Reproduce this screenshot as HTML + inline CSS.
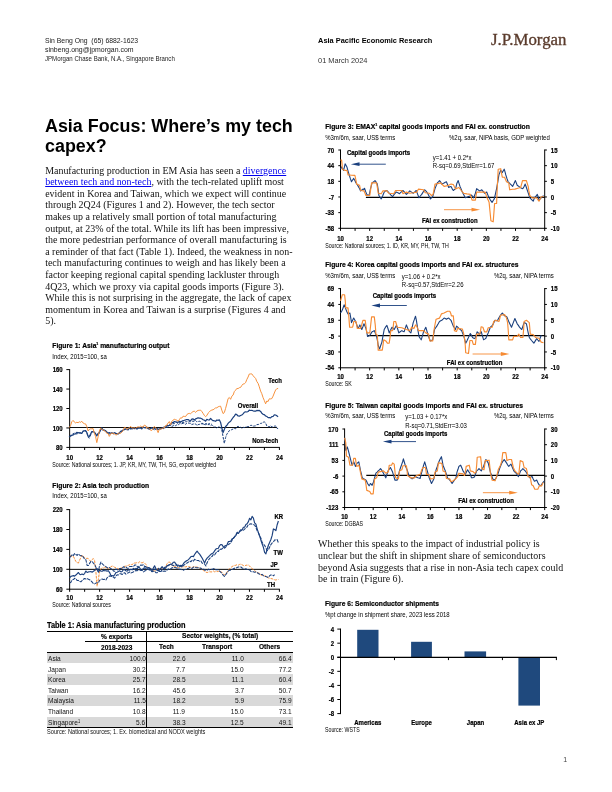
<!DOCTYPE html>
<html lang="en"><head><meta charset="utf-8"><title>Asia Focus: Where’s my tech capex?</title>
<style>
html,body{margin:0;padding:0;background:#fff}
#page{position:relative;width:612px;height:792px;overflow:hidden;background:#fff;font-family:'Liberation Sans',Arial,Helvetica,sans-serif}
.t{position:absolute;margin:0;padding:0;white-space:pre;line-height:1;font-weight:400}
.p{font-family:'Liberation Serif','Times New Roman',Times,serif}
.logo{font-family:'Liberation Serif','Times New Roman',Times,serif;-webkit-text-stroke:0.3px #5a3b2c}
.t a{color:#0000ee;text-decoration:underline;text-decoration-thickness:0.6px;text-underline-offset:1px}
.t sup{font-size:60%;line-height:0;vertical-align:0.5em}
h1,p,header,footer,section{margin:0;padding:0;font-size:inherit;font-weight:inherit}
.b{position:absolute}
.tb.bd{-webkit-text-stroke:0.2px #000}
svg{position:absolute;left:0;top:0}
svg text{font-family:'Liberation Sans',Arial,Helvetica,sans-serif}
</style></head>
<body><div id="page">
<header>
<span class="t" style="top:37.30px;font-size:7px;left:45.40px;transform:scaleX(0.9763);transform-origin:0 0;color:#1a1a1a;">Sin Beng Ong&nbsp; (65) 6882-1623</span>
<span class="t" style="top:46.30px;font-size:7px;left:45.40px;transform:scaleX(0.9876);transform-origin:0 0;color:#1a1a1a;">sinbeng.ong@jpmorgan.com</span>
<span class="t" style="top:55.10px;font-size:7.4px;left:45.40px;transform:scaleX(0.8227);transform-origin:0 0;color:#1a1a1a;">JPMorgan Chase Bank, N.A., Singapore Branch</span>
<span class="t" style="top:37.10px;font-size:7.4px;left:318.10px;font-weight:700;">Asia Pacific Economic Research</span>
<span class="t" style="top:57.10px;font-size:7.4px;left:318.10px;transform:scaleX(1.0038);transform-origin:0 0;color:#333;">01 March 2024</span>
<span class="t logo" style="top:31.95px;font-size:15.7px;left:490.60px;transform:scaleX(1.0735);transform-origin:0 0;color:#5a3b2c;">J.P.Morgan</span>
</header>
<h1>
<span class="t" style="top:117.30px;font-size:18px;left:45.30px;transform:scaleX(0.9935);transform-origin:0 0;font-weight:700;">Asia Focus: Where’s my tech</span>
<span class="t" style="top:137.30px;font-size:18px;left:45.30px;transform:scaleX(0.9936);transform-origin:0 0;font-weight:700;">capex?</span>
</h1>
<p>
<span class="t p" style="top:165.83px;font-size:9.95px;left:45.20px;color:#111;">Manufacturing production in EM Asia has seen a <a href="#">divergence</a></span>
<span class="t p" style="top:176.83px;font-size:9.95px;left:45.20px;color:#111;"><a href="#">between tech and non-tech</a>, with the tech-related uplift most</span>
<span class="t p" style="top:188.83px;font-size:9.95px;left:45.20px;color:#111;">evident in Korea and Taiwan, which we expect will continue</span>
<span class="t p" style="top:199.83px;font-size:9.95px;left:45.20px;color:#111;">through 2Q24 (Figures 1 and 2). However, the tech sector</span>
<span class="t p" style="top:211.83px;font-size:9.95px;left:45.20px;color:#111;">makes up a relatively small portion of total manufacturing</span>
<span class="t p" style="top:223.83px;font-size:9.95px;left:45.20px;color:#111;">output, at 23% of the total. While its lift has been impressive,</span>
<span class="t p" style="top:234.83px;font-size:9.95px;left:45.20px;color:#111;">the more pedestrian performance of overall manufacturing is</span>
<span class="t p" style="top:246.83px;font-size:9.95px;left:45.20px;color:#111;">a reminder of that fact (Table 1). Indeed, the weakness in non-</span>
<span class="t p" style="top:257.82px;font-size:9.95px;left:45.20px;color:#111;">tech manufacturing continues to weigh and has likely been a</span>
<span class="t p" style="top:269.82px;font-size:9.95px;left:45.20px;color:#111;">factor keeping regional capital spending lackluster through</span>
<span class="t p" style="top:281.82px;font-size:9.95px;left:45.20px;color:#111;">4Q23, which we proxy via capital goods imports (Figure 3).</span>
<span class="t p" style="top:292.82px;font-size:9.95px;left:45.20px;color:#111;">While this is not surprising in the aggregate, the lack of capex</span>
<span class="t p" style="top:304.82px;font-size:9.95px;left:45.20px;color:#111;">momentum in Korea and Taiwan is a surprise (Figures 4 and</span>
<span class="t p" style="top:315.82px;font-size:9.95px;left:45.20px;color:#111;">5).</span>
</p>
<section id="table">
<div class="b" style="left:47.20px;top:652.90px;width:245.50px;height:10.60px;background:#d9d9d9"></div>
<div class="b" style="left:47.20px;top:674.10px;width:245.50px;height:10.60px;background:#d9d9d9"></div>
<div class="b" style="left:47.20px;top:695.30px;width:245.50px;height:10.60px;background:#d9d9d9"></div>
<div class="b" style="left:47.20px;top:716.50px;width:245.50px;height:10.60px;background:#d9d9d9"></div>
<div class="b" style="left:47.20px;top:630.70px;width:245.50px;height:1.30px;background:#000"></div>
<div class="b" style="left:85.20px;top:641.00px;width:207.50px;height:0.90px;background:#000"></div>
<div class="b" style="left:47.20px;top:652.00px;width:245.50px;height:1.10px;background:#000"></div>
<div class="b" style="left:47.20px;top:726.50px;width:245.50px;height:1.30px;background:#000"></div>
<div class="b" style="left:146.10px;top:631.00px;width:1.10px;height:96.50px;background:#000"></div>
<span class="t tb bd" style="top:620.80px;font-size:9px;left:47.40px;transform:scaleX(0.8200);transform-origin:0 0;font-weight:700;">Table 1: Asia manufacturing production</span>
<span class="t tb bd" style="top:632.80px;font-size:8px;left:101.30px;transform:scaleX(0.8200);transform-origin:0 0;font-weight:700;">% exports</span>
<span class="t tb bd" style="top:631.80px;font-size:8px;left:182.20px;transform:scaleX(0.8200);transform-origin:0 0;font-weight:700;">Sector weights, (% total)</span>
<span class="t tb bd" style="top:643.80px;font-size:8px;left:101.00px;transform:scaleX(0.8200);transform-origin:0 0;font-weight:700;">2018-2023</span>
<span class="t tb bd" style="top:642.80px;font-size:8px;left:159.00px;transform:scaleX(0.8200);transform-origin:0 0;font-weight:700;">Tech</span>
<span class="t tb bd" style="top:642.80px;font-size:8px;left:201.60px;transform:scaleX(0.8200);transform-origin:0 0;font-weight:700;">Transport</span>
<span class="t tb bd" style="top:642.80px;font-size:8px;left:258.80px;transform:scaleX(0.8200);transform-origin:0 0;font-weight:700;">Others</span>
<span class="t tb" style="top:654.80px;font-size:8px;left:47.80px;transform:scaleX(0.8200);transform-origin:0 0;color:#111;">Asia</span>
<span class="t tb" style="top:654.80px;font-size:8px;right:466.40px;transform:scaleX(0.8200);transform-origin:100% 0;color:#111;">100.0</span>
<span class="t tb" style="top:654.80px;font-size:8px;right:426.80px;transform:scaleX(0.8200);transform-origin:100% 0;color:#111;">22.6</span>
<span class="t tb" style="top:654.80px;font-size:8px;right:368.00px;transform:scaleX(0.8200);transform-origin:100% 0;color:#111;">11.0</span>
<span class="t tb" style="top:654.80px;font-size:8px;right:320.90px;transform:scaleX(0.8200);transform-origin:100% 0;color:#111;">66.4</span>
<span class="t tb" style="top:665.80px;font-size:8px;left:47.80px;transform:scaleX(0.8200);transform-origin:0 0;color:#111;">Japan</span>
<span class="t tb" style="top:665.80px;font-size:8px;right:466.40px;transform:scaleX(0.8200);transform-origin:100% 0;color:#111;">30.2</span>
<span class="t tb" style="top:665.80px;font-size:8px;right:426.80px;transform:scaleX(0.8200);transform-origin:100% 0;color:#111;">7.7</span>
<span class="t tb" style="top:665.80px;font-size:8px;right:368.00px;transform:scaleX(0.8200);transform-origin:100% 0;color:#111;">15.0</span>
<span class="t tb" style="top:665.80px;font-size:8px;right:320.90px;transform:scaleX(0.8200);transform-origin:100% 0;color:#111;">77.2</span>
<span class="t tb" style="top:675.80px;font-size:8px;left:47.80px;transform:scaleX(0.8200);transform-origin:0 0;color:#111;">Korea</span>
<span class="t tb" style="top:675.80px;font-size:8px;right:466.40px;transform:scaleX(0.8200);transform-origin:100% 0;color:#111;">25.7</span>
<span class="t tb" style="top:675.80px;font-size:8px;right:426.80px;transform:scaleX(0.8200);transform-origin:100% 0;color:#111;">28.5</span>
<span class="t tb" style="top:675.80px;font-size:8px;right:368.00px;transform:scaleX(0.8200);transform-origin:100% 0;color:#111;">11.1</span>
<span class="t tb" style="top:675.80px;font-size:8px;right:320.90px;transform:scaleX(0.8200);transform-origin:100% 0;color:#111;">60.4</span>
<span class="t tb" style="top:686.80px;font-size:8px;left:47.80px;transform:scaleX(0.8200);transform-origin:0 0;color:#111;">Taiwan</span>
<span class="t tb" style="top:686.80px;font-size:8px;right:466.40px;transform:scaleX(0.8200);transform-origin:100% 0;color:#111;">16.2</span>
<span class="t tb" style="top:686.80px;font-size:8px;right:426.80px;transform:scaleX(0.8200);transform-origin:100% 0;color:#111;">45.6</span>
<span class="t tb" style="top:686.80px;font-size:8px;right:368.00px;transform:scaleX(0.8200);transform-origin:100% 0;color:#111;">3.7</span>
<span class="t tb" style="top:686.80px;font-size:8px;right:320.90px;transform:scaleX(0.8200);transform-origin:100% 0;color:#111;">50.7</span>
<span class="t tb" style="top:696.80px;font-size:8px;left:47.80px;transform:scaleX(0.8200);transform-origin:0 0;color:#111;">Malaysia</span>
<span class="t tb" style="top:696.80px;font-size:8px;right:466.40px;transform:scaleX(0.8200);transform-origin:100% 0;color:#111;">11.5</span>
<span class="t tb" style="top:696.80px;font-size:8px;right:426.80px;transform:scaleX(0.8200);transform-origin:100% 0;color:#111;">18.2</span>
<span class="t tb" style="top:696.80px;font-size:8px;right:368.00px;transform:scaleX(0.8200);transform-origin:100% 0;color:#111;">5.9</span>
<span class="t tb" style="top:696.80px;font-size:8px;right:320.90px;transform:scaleX(0.8200);transform-origin:100% 0;color:#111;">75.9</span>
<span class="t tb" style="top:707.80px;font-size:8px;left:47.80px;transform:scaleX(0.8200);transform-origin:0 0;color:#111;">Thailand</span>
<span class="t tb" style="top:707.80px;font-size:8px;right:466.40px;transform:scaleX(0.8200);transform-origin:100% 0;color:#111;">10.8</span>
<span class="t tb" style="top:707.80px;font-size:8px;right:426.80px;transform:scaleX(0.8200);transform-origin:100% 0;color:#111;">11.9</span>
<span class="t tb" style="top:707.80px;font-size:8px;right:368.00px;transform:scaleX(0.8200);transform-origin:100% 0;color:#111;">15.0</span>
<span class="t tb" style="top:707.80px;font-size:8px;right:320.90px;transform:scaleX(0.8200);transform-origin:100% 0;color:#111;">73.1</span>
<span class="t tb" style="top:718.80px;font-size:8px;left:47.80px;transform:scaleX(0.8200);transform-origin:0 0;color:#111;">Singapore<sup>1</sup></span>
<span class="t tb" style="top:718.80px;font-size:8px;right:466.40px;transform:scaleX(0.8200);transform-origin:100% 0;color:#111;">5.6</span>
<span class="t tb" style="top:718.80px;font-size:8px;right:426.80px;transform:scaleX(0.8200);transform-origin:100% 0;color:#111;">38.3</span>
<span class="t tb" style="top:718.80px;font-size:8px;right:368.00px;transform:scaleX(0.8200);transform-origin:100% 0;color:#111;">12.5</span>
<span class="t tb" style="top:718.80px;font-size:8px;right:320.90px;transform:scaleX(0.8200);transform-origin:100% 0;color:#111;">49.1</span>
<span class="t tb" style="top:728.30px;font-size:7px;left:47.40px;transform:scaleX(0.8046);transform-origin:0 0;color:#111;">Source: National sources; 1. Ex. biomedical and NODX weights</span>
</section>
<svg width="612" height="792" viewBox="0 0 612 792">
<text x="52.30" y="347.80" font-size="8" text-anchor="start" textLength="117.10" lengthAdjust="spacingAndGlyphs" font-weight="700" stroke="#000" stroke-width="0.22">Figure 1: Asia<tspan font-size="4.16" dy="-3.20">1</tspan><tspan dy="3.20"> manufacturing output</tspan></text>
<text transform="translate(52.30,358.50) scale(0.82,1)" font-size="7.33" text-anchor="start">Index, 2015=100, sa</text>
<line x1="69.65" y1="369.10" x2="69.65" y2="447.90" stroke="#000" stroke-width="1"/>
<line x1="66.35" y1="369.60" x2="69.65" y2="369.60" stroke="#000" stroke-width="1"/>
<text transform="translate(62.70,372.22) scale(0.82,1)" font-size="7.33" text-anchor="end" font-weight="700" stroke="#000" stroke-width="0.22">160</text>
<line x1="66.35" y1="389.05" x2="69.65" y2="389.05" stroke="#000" stroke-width="1"/>
<text transform="translate(62.70,391.67) scale(0.82,1)" font-size="7.33" text-anchor="end" font-weight="700" stroke="#000" stroke-width="0.22">140</text>
<line x1="66.35" y1="408.50" x2="69.65" y2="408.50" stroke="#000" stroke-width="1"/>
<text transform="translate(62.70,411.12) scale(0.82,1)" font-size="7.33" text-anchor="end" font-weight="700" stroke="#000" stroke-width="0.22">120</text>
<line x1="66.35" y1="427.95" x2="69.65" y2="427.95" stroke="#000" stroke-width="1"/>
<text transform="translate(62.70,430.57) scale(0.82,1)" font-size="7.33" text-anchor="end" font-weight="700" stroke="#000" stroke-width="0.22">100</text>
<line x1="66.35" y1="447.40" x2="69.65" y2="447.40" stroke="#000" stroke-width="1"/>
<text transform="translate(62.70,450.02) scale(0.82,1)" font-size="7.33" text-anchor="end" font-weight="700" stroke="#000" stroke-width="0.22">80</text>
<line x1="69.15" y1="447.40" x2="279.90" y2="447.40" stroke="#000" stroke-width="1"/>
<line x1="69.65" y1="447.40" x2="69.65" y2="450.00" stroke="#000" stroke-width="1"/>
<line x1="84.63" y1="447.40" x2="84.63" y2="450.00" stroke="#000" stroke-width="1"/>
<line x1="99.61" y1="447.40" x2="99.61" y2="450.00" stroke="#000" stroke-width="1"/>
<line x1="114.60" y1="447.40" x2="114.60" y2="450.00" stroke="#000" stroke-width="1"/>
<line x1="129.58" y1="447.40" x2="129.58" y2="450.00" stroke="#000" stroke-width="1"/>
<line x1="144.56" y1="447.40" x2="144.56" y2="450.00" stroke="#000" stroke-width="1"/>
<line x1="159.54" y1="447.40" x2="159.54" y2="450.00" stroke="#000" stroke-width="1"/>
<line x1="174.52" y1="447.40" x2="174.52" y2="450.00" stroke="#000" stroke-width="1"/>
<line x1="189.51" y1="447.40" x2="189.51" y2="450.00" stroke="#000" stroke-width="1"/>
<line x1="204.49" y1="447.40" x2="204.49" y2="450.00" stroke="#000" stroke-width="1"/>
<line x1="219.47" y1="447.40" x2="219.47" y2="450.00" stroke="#000" stroke-width="1"/>
<line x1="234.45" y1="447.40" x2="234.45" y2="450.00" stroke="#000" stroke-width="1"/>
<line x1="249.44" y1="447.40" x2="249.44" y2="450.00" stroke="#000" stroke-width="1"/>
<line x1="264.42" y1="447.40" x2="264.42" y2="450.00" stroke="#000" stroke-width="1"/>
<line x1="279.40" y1="447.40" x2="279.40" y2="450.00" stroke="#000" stroke-width="1"/>
<text transform="translate(69.65,460.22) scale(0.82,1)" font-size="7.33" text-anchor="middle" font-weight="700" stroke="#000" stroke-width="0.22">10</text>
<text transform="translate(99.61,460.22) scale(0.82,1)" font-size="7.33" text-anchor="middle" font-weight="700" stroke="#000" stroke-width="0.22">12</text>
<text transform="translate(129.58,460.22) scale(0.82,1)" font-size="7.33" text-anchor="middle" font-weight="700" stroke="#000" stroke-width="0.22">14</text>
<text transform="translate(159.54,460.22) scale(0.82,1)" font-size="7.33" text-anchor="middle" font-weight="700" stroke="#000" stroke-width="0.22">16</text>
<text transform="translate(189.51,460.22) scale(0.82,1)" font-size="7.33" text-anchor="middle" font-weight="700" stroke="#000" stroke-width="0.22">18</text>
<text transform="translate(219.47,460.22) scale(0.82,1)" font-size="7.33" text-anchor="middle" font-weight="700" stroke="#000" stroke-width="0.22">20</text>
<text transform="translate(249.44,460.22) scale(0.82,1)" font-size="7.33" text-anchor="middle" font-weight="700" stroke="#000" stroke-width="0.22">22</text>
<text transform="translate(279.40,460.22) scale(0.82,1)" font-size="7.33" text-anchor="middle" font-weight="700" stroke="#000" stroke-width="0.22">24</text>
<line x1="69.30" y1="427.50" x2="277.00" y2="427.50" stroke="#000" stroke-width="0.95"/>
<path d="M169.2,425.1 L170.4,424.9 L171.7,424.0 L172.9,423.8 L174.2,423.6 L175.4,422.6 L176.7,422.5 L177.9,423.6 L179.2,422.5 L180.4,422.3 L181.7,423.3 L182.9,422.2 L184.2,422.5 L185.4,421.7 L186.7,421.7 L187.9,420.8 L189.2,421.4 L190.4,421.7 L191.7,421.0 L192.9,421.3 L194.2,421.3 L195.4,420.4 L196.7,421.7 L197.9,421.6 L199.2,421.2 L200.4,421.5 L201.7,423.5 L202.9,423.4 L204.2,424.4 L205.4,424.7 L206.7,424.3 L207.9,424.4 L209.2,423.5 L210.4,424.1 L211.7,424.1" fill="none" stroke="#1b407e" stroke-width="1.0" stroke-linejoin="round" stroke-dasharray="2.6,1.1"/>
<path d="M69.3,436.5 L70.6,435.2 L71.8,434.8 L73.1,433.7 L74.3,433.1 L75.6,433.3 L76.8,434.0 L78.1,433.4 L79.3,432.9 L80.6,432.6 L81.8,433.2 L83.1,431.5 L84.3,430.5 L85.6,430.7 L86.8,432.4 L88.1,437.2 L89.3,438.2 L90.6,435.0 L91.8,432.7 L93.1,430.9 L94.3,431.9 L95.6,434.8 L96.8,435.9 L98.1,434.8 L99.3,433.2 L100.6,430.2 L101.8,429.1 L103.1,430.2 L104.3,430.9 L105.6,431.1 L106.8,432.1 L108.1,432.3 L109.3,434.1 L110.6,433.5 L111.8,433.1 L113.1,433.5 L114.3,434.2 L115.6,433.2 L116.8,434.2 L118.1,434.2 L119.3,432.9 L120.6,432.0 L121.8,431.7 L123.1,430.8 L124.3,429.8 L125.6,429.5 L126.8,430.3 L128.1,429.3 L129.3,428.7 L130.6,429.1 L131.8,428.8 L133.1,429.0 L134.3,428.4 L135.6,428.6 L136.8,429.9 L138.1,427.9 L139.3,428.0 L140.6,428.2 L141.8,428.7 L143.1,427.6 L144.3,427.5 L145.6,428.1 L146.8,427.9 L148.1,428.8 L149.3,429.9 L150.6,428.4 L151.8,428.2 L153.1,429.0 L154.3,429.8 L155.6,429.1 L156.8,428.8 L158.1,429.3 L159.3,428.3 L160.6,428.4 L161.8,428.0 L163.1,428.7 L164.3,428.3 L165.6,427.7 L166.8,427.1 L168.1,427.1 L169.3,425.3 L170.6,425.6 L171.8,426.4 L173.1,425.9 L174.3,425.1 L175.6,425.7 L176.8,424.9 L178.1,425.0 L179.3,423.9 L180.6,423.6 L181.8,423.8 L183.1,423.2 L184.3,423.5 L185.6,424.3 L186.8,423.3 L188.1,423.0 L189.3,423.2 L190.6,423.5 L191.8,424.6 L193.1,424.0 L194.3,424.0 L195.6,423.9 L196.8,425.4 L198.1,424.6 L199.3,424.4 L200.6,424.0 L201.8,423.8 L203.1,423.9 L204.3,424.6 L205.6,423.6 L206.8,423.7 L208.1,424.6 L209.3,424.5 L210.6,425.9 L211.8,424.8 L213.1,425.9 L214.3,427.0 L215.6,427.0 L216.8,428.1 L218.1,427.0 L219.3,426.5 L220.6,427.5 L221.8,429.8 L223.1,437.0 L224.3,443.4 L225.6,437.5 L226.8,434.2 L228.1,432.4 L229.3,430.6 L230.6,430.3 L231.8,429.6 L233.1,429.0 L234.3,428.4 L235.6,428.8 L236.8,427.0 L238.1,426.3 L239.3,427.3 L240.6,427.1 L241.8,428.3 L243.1,427.3 L244.3,427.6 L245.6,426.9 L246.8,426.8 L248.1,426.7 L249.3,426.3 L250.6,425.4 L251.8,425.4 L253.1,426.2 L254.3,426.0 L255.6,425.9 L256.8,424.6 L258.1,424.5 L259.3,424.2 L260.6,423.4 L261.8,423.2 L263.1,422.2 L264.3,421.9 L265.6,422.9 L266.8,425.9 L268.1,426.7 L269.3,426.7 L270.6,425.5 L271.8,427.1 L273.1,426.9 L274.3,426.2 L275.6,425.9 L276.8,428.1 L278.1,428.6" fill="none" stroke="#1b407e" stroke-width="1.0" stroke-linejoin="round" stroke-dasharray="2.6,1.1"/>
<path d="M69.3,437.1 L70.6,436.0 L71.8,435.4 L73.1,435.0 L74.3,434.0 L75.6,433.9 L76.8,432.3 L78.1,432.7 L79.3,432.9 L80.6,433.1 L81.8,433.5 L83.1,431.0 L84.3,430.8 L85.6,430.6 L86.8,432.5 L88.1,436.2 L89.3,436.5 L90.6,433.9 L91.8,431.6 L93.1,431.7 L94.3,432.2 L95.6,433.7 L96.8,435.8 L98.1,433.4 L99.3,432.6 L100.6,430.0 L101.8,427.8 L103.1,430.1 L104.3,430.0 L105.6,430.7 L106.8,432.5 L108.1,433.1 L109.3,432.6 L110.6,433.2 L111.8,432.7 L113.1,433.6 L114.3,432.6 L115.6,433.4 L116.8,433.5 L118.1,433.9 L119.3,433.1 L120.6,431.4 L121.8,430.9 L123.1,430.0 L124.3,429.4 L125.6,428.7 L126.8,429.1 L128.1,429.8 L129.3,428.2 L130.6,428.7 L131.8,428.4 L133.1,428.2 L134.3,428.6 L135.6,428.4 L136.8,428.4 L138.1,427.9 L139.3,428.1 L140.6,427.6 L141.8,428.8 L143.1,426.8 L144.3,427.7 L145.6,427.8 L146.8,427.0 L148.1,428.7 L149.3,428.6 L150.6,428.7 L151.8,427.7 L153.1,428.3 L154.3,428.5 L155.6,429.2 L156.8,428.3 L158.1,429.5 L159.3,429.1 L160.6,428.8 L161.8,428.1 L163.1,427.6 L164.3,427.1 L165.6,427.1 L166.8,425.4 L168.1,425.8 L169.3,425.2 L170.6,424.5 L171.8,422.3 L173.1,422.9 L174.3,421.5 L175.6,421.8 L176.8,422.1 L178.1,422.4 L179.3,421.3 L180.6,422.1 L181.8,421.2 L183.1,420.6 L184.3,420.3 L185.6,419.9 L186.8,419.5 L188.1,419.5 L189.3,420.2 L190.6,420.6 L191.8,419.1 L193.1,418.8 L194.3,420.0 L195.6,418.9 L196.8,418.4 L198.1,417.8 L199.3,418.1 L200.6,418.2 L201.8,418.7 L203.1,419.7 L204.3,420.1 L205.6,421.2 L206.8,419.4 L208.1,419.8 L209.3,420.0 L210.6,418.5 L211.8,419.7 L213.1,420.7 L214.3,420.8 L215.6,421.3 L216.8,420.0 L218.1,420.4 L219.3,419.8 L220.6,422.5 L221.8,427.7 L223.1,432.6 L224.3,429.5 L225.6,426.5 L226.8,425.5 L228.1,423.4 L229.3,422.2 L230.6,421.3 L231.8,419.4 L233.1,417.5 L234.3,416.1 L235.6,414.1 L236.8,414.6 L238.1,416.0 L239.3,416.2 L240.6,415.5 L241.8,415.0 L243.1,413.9 L244.3,412.3 L245.6,411.8 L246.8,412.0 L248.1,411.5 L249.3,410.1 L250.6,410.5 L251.8,410.4 L253.1,410.8 L254.3,411.1 L255.6,411.2 L256.8,410.4 L258.1,410.7 L259.3,410.4 L260.6,411.4 L261.8,413.2 L263.1,414.3 L264.3,414.6 L265.6,416.0 L266.8,416.4 L268.1,417.6 L269.3,417.7 L270.6,417.9 L271.8,416.7 L273.1,416.5 L274.3,414.9 L275.6,415.0 L276.8,415.8 L278.1,416.8" fill="none" stroke="#1b407e" stroke-width="1.2" stroke-linejoin="round"/>
<path d="M69.3,427.5 L70.6,425.5 L71.8,421.7 L73.1,420.4 L74.3,422.0 L75.6,422.9 L76.8,422.3 L78.1,422.7 L79.3,421.8 L80.6,422.3 L81.8,421.3 L83.1,423.0 L84.3,423.7 L85.6,423.9 L86.8,426.6 L88.1,431.0 L89.3,429.4 L90.6,428.8 L91.8,428.8 L93.1,428.6 L94.3,433.2 L95.6,436.6 L96.8,442.6 L98.1,436.8 L99.3,431.0 L100.6,428.2 L101.8,428.9 L103.1,430.2 L104.3,430.6 L105.6,431.5 L106.8,433.3 L108.1,433.6 L109.3,436.4 L110.6,434.2 L111.8,432.8 L113.1,433.8 L114.3,433.4 L115.6,434.9 L116.8,434.9 L118.1,433.1 L119.3,433.1 L120.6,433.4 L121.8,432.0 L123.1,430.8 L124.3,427.3 L125.6,427.6 L126.8,429.4 L128.1,428.2 L129.3,428.1 L130.6,426.3 L131.8,427.8 L133.1,428.1 L134.3,427.5 L135.6,428.3 L136.8,427.3 L138.1,426.8 L139.3,427.1 L140.6,426.1 L141.8,426.9 L143.1,427.2 L144.3,425.1 L145.6,425.6 L146.8,428.3 L148.1,427.3 L149.3,428.5 L150.6,430.3 L151.8,430.4 L153.1,429.0 L154.3,426.4 L155.6,427.6 L156.8,429.5 L158.1,432.6 L159.3,429.2 L160.6,428.9 L161.8,429.0 L163.1,427.8 L164.3,428.0 L165.6,425.5 L166.8,425.4 L168.1,422.9 L169.3,421.6 L170.6,424.8 L171.8,421.4 L173.1,420.1 L174.3,419.3 L175.6,419.7 L176.8,420.2 L178.1,421.2 L179.3,419.7 L180.6,417.8 L181.8,418.1 L183.1,416.2 L184.3,416.4 L185.6,416.6 L186.8,414.6 L188.1,413.7 L189.3,413.4 L190.6,413.7 L191.8,412.5 L193.1,411.5 L194.3,411.2 L195.6,412.4 L196.8,411.1 L198.1,410.4 L199.3,410.3 L200.6,410.1 L201.8,411.5 L203.1,413.4 L204.3,415.4 L205.6,416.6 L206.8,415.6 L208.1,413.2 L209.3,412.0 L210.6,410.5 L211.8,410.1 L213.1,409.7 L214.3,409.1 L215.6,407.7 L216.8,407.9 L218.1,406.8 L219.3,406.4 L220.6,406.2 L221.8,410.2 L223.1,413.6 L224.3,412.6 L225.6,408.4 L226.8,403.9 L228.1,398.6 L229.3,397.5 L230.6,399.3 L231.8,396.2 L233.1,395.1 L234.3,391.6 L235.6,390.2 L236.8,388.5 L238.1,388.6 L239.3,387.7 L240.6,387.4 L241.8,385.5 L243.1,384.0 L244.3,383.8 L245.6,382.6 L246.8,379.5 L248.1,377.0 L249.3,374.0 L250.6,373.9 L251.8,373.9 L253.1,375.7 L254.3,377.1 L255.6,378.4 L256.8,381.5 L258.1,383.4 L259.3,386.8 L260.6,391.1 L261.8,393.7 L263.1,397.7 L264.3,400.5 L265.6,403.8 L266.8,401.0 L268.1,401.5 L269.3,398.8 L270.6,398.9 L271.8,398.6 L273.1,396.1 L274.3,393.0 L275.6,390.0 L276.8,388.7 L278.1,388.5" fill="none" stroke="#f68b33" stroke-width="0.95" stroke-linejoin="round"/>
<text transform="translate(268.30,382.90) scale(0.82,1)" font-size="7.33" text-anchor="start" font-weight="700" stroke="#000" stroke-width="0.22">Tech</text>
<text transform="translate(237.80,407.92) scale(0.82,1)" font-size="7.33" text-anchor="start" font-weight="700" stroke="#000" stroke-width="0.22">Overall</text>
<text transform="translate(252.20,442.62) scale(0.82,1)" font-size="7.33" text-anchor="start" font-weight="700" stroke="#000" stroke-width="0.22">Non-tech</text>
<text transform="translate(52.30,467.00) scale(0.82,1)" font-size="6.4" text-anchor="start">Source: National sources; 1. JP, KR, MY, TW, TH, SG, export weighted</text>
<text x="52.30" y="487.70" font-size="8" text-anchor="start" textLength="96.90" lengthAdjust="spacingAndGlyphs" font-weight="700" stroke="#000" stroke-width="0.22">Figure 2: Asia tech production</text>
<text transform="translate(52.30,498.30) scale(0.82,1)" font-size="7.33" text-anchor="start">Index, 2015=100, sa</text>
<line x1="69.65" y1="509.10" x2="69.65" y2="589.70" stroke="#000" stroke-width="1"/>
<line x1="66.35" y1="509.60" x2="69.65" y2="509.60" stroke="#000" stroke-width="1"/>
<text transform="translate(62.70,512.22) scale(0.82,1)" font-size="7.33" text-anchor="end" font-weight="700" stroke="#000" stroke-width="0.22">220</text>
<line x1="66.35" y1="529.50" x2="69.65" y2="529.50" stroke="#000" stroke-width="1"/>
<text transform="translate(62.70,532.12) scale(0.82,1)" font-size="7.33" text-anchor="end" font-weight="700" stroke="#000" stroke-width="0.22">180</text>
<line x1="66.35" y1="549.40" x2="69.65" y2="549.40" stroke="#000" stroke-width="1"/>
<text transform="translate(62.70,552.02) scale(0.82,1)" font-size="7.33" text-anchor="end" font-weight="700" stroke="#000" stroke-width="0.22">140</text>
<line x1="66.35" y1="569.30" x2="69.65" y2="569.30" stroke="#000" stroke-width="1"/>
<text transform="translate(62.70,571.92) scale(0.82,1)" font-size="7.33" text-anchor="end" font-weight="700" stroke="#000" stroke-width="0.22">100</text>
<line x1="66.35" y1="589.20" x2="69.65" y2="589.20" stroke="#000" stroke-width="1"/>
<text transform="translate(62.70,591.82) scale(0.82,1)" font-size="7.33" text-anchor="end" font-weight="700" stroke="#000" stroke-width="0.22">60</text>
<line x1="69.15" y1="589.20" x2="279.90" y2="589.20" stroke="#000" stroke-width="1"/>
<line x1="69.65" y1="589.20" x2="69.65" y2="591.80" stroke="#000" stroke-width="1"/>
<line x1="84.63" y1="589.20" x2="84.63" y2="591.80" stroke="#000" stroke-width="1"/>
<line x1="99.61" y1="589.20" x2="99.61" y2="591.80" stroke="#000" stroke-width="1"/>
<line x1="114.60" y1="589.20" x2="114.60" y2="591.80" stroke="#000" stroke-width="1"/>
<line x1="129.58" y1="589.20" x2="129.58" y2="591.80" stroke="#000" stroke-width="1"/>
<line x1="144.56" y1="589.20" x2="144.56" y2="591.80" stroke="#000" stroke-width="1"/>
<line x1="159.54" y1="589.20" x2="159.54" y2="591.80" stroke="#000" stroke-width="1"/>
<line x1="174.52" y1="589.20" x2="174.52" y2="591.80" stroke="#000" stroke-width="1"/>
<line x1="189.51" y1="589.20" x2="189.51" y2="591.80" stroke="#000" stroke-width="1"/>
<line x1="204.49" y1="589.20" x2="204.49" y2="591.80" stroke="#000" stroke-width="1"/>
<line x1="219.47" y1="589.20" x2="219.47" y2="591.80" stroke="#000" stroke-width="1"/>
<line x1="234.45" y1="589.20" x2="234.45" y2="591.80" stroke="#000" stroke-width="1"/>
<line x1="249.44" y1="589.20" x2="249.44" y2="591.80" stroke="#000" stroke-width="1"/>
<line x1="264.42" y1="589.20" x2="264.42" y2="591.80" stroke="#000" stroke-width="1"/>
<line x1="279.40" y1="589.20" x2="279.40" y2="591.80" stroke="#000" stroke-width="1"/>
<text transform="translate(69.65,600.12) scale(0.82,1)" font-size="7.33" text-anchor="middle" font-weight="700" stroke="#000" stroke-width="0.22">10</text>
<text transform="translate(99.61,600.12) scale(0.82,1)" font-size="7.33" text-anchor="middle" font-weight="700" stroke="#000" stroke-width="0.22">12</text>
<text transform="translate(129.58,600.12) scale(0.82,1)" font-size="7.33" text-anchor="middle" font-weight="700" stroke="#000" stroke-width="0.22">14</text>
<text transform="translate(159.54,600.12) scale(0.82,1)" font-size="7.33" text-anchor="middle" font-weight="700" stroke="#000" stroke-width="0.22">16</text>
<text transform="translate(189.51,600.12) scale(0.82,1)" font-size="7.33" text-anchor="middle" font-weight="700" stroke="#000" stroke-width="0.22">18</text>
<text transform="translate(219.47,600.12) scale(0.82,1)" font-size="7.33" text-anchor="middle" font-weight="700" stroke="#000" stroke-width="0.22">20</text>
<text transform="translate(249.44,600.12) scale(0.82,1)" font-size="7.33" text-anchor="middle" font-weight="700" stroke="#000" stroke-width="0.22">22</text>
<text transform="translate(279.40,600.12) scale(0.82,1)" font-size="7.33" text-anchor="middle" font-weight="700" stroke="#000" stroke-width="0.22">24</text>
<line x1="69.30" y1="569.35" x2="279.40" y2="569.35" stroke="#000" stroke-width="1.0"/>
<path d="M69.6,556.0 L70.9,555.9 L72.1,556.7 L73.4,556.3 L74.6,558.9 L75.9,561.6 L77.1,562.5 L78.4,563.1 L79.6,560.1 L80.9,557.5 L82.1,555.0 L83.4,556.3 L84.6,557.7 L85.9,558.6 L87.1,558.2 L88.4,558.7 L89.6,560.4 L90.9,561.2 L92.1,559.5 L93.4,558.6 L94.6,560.6 L95.9,571.7 L97.1,586.2 L98.4,578.9 L99.6,571.5 L100.9,568.9 L102.1,567.7 L103.4,568.1 L104.6,567.2 L105.9,567.5 L107.1,568.3 L108.4,568.3 L109.6,568.0 L110.9,566.8 L112.1,566.0 L113.4,566.4 L114.6,567.3 L115.9,567.7 L117.1,568.2 L118.4,569.0 L119.6,568.6 L120.9,567.9 L122.1,568.0 L123.4,567.4 L124.6,566.3 L125.9,566.2 L127.1,565.6 L128.4,565.3 L129.6,564.7 L130.9,564.4 L132.1,564.9 L133.4,563.1 L134.6,563.0 L135.9,563.0 L137.1,562.5 L138.4,562.8 L139.6,561.8 L140.9,562.6 L142.1,562.9 L143.4,562.2 L144.6,563.1 L145.9,564.4 L147.1,566.5 L148.4,567.9 L149.6,568.4 L150.9,568.7 L152.1,569.7 L153.4,570.6 L154.6,571.1 L155.9,570.4 L157.1,568.8 L158.4,569.1 L159.6,568.5 L160.9,568.4 L162.1,568.6 L163.4,568.2 L164.6,567.6 L165.9,566.6 L167.1,563.5 L168.4,562.3 L169.6,562.0 L170.9,563.7 L172.1,565.2 L173.4,566.9 L174.6,566.5 L175.9,566.9 L177.1,567.2 L178.4,567.9 L179.6,566.7 L180.9,566.9 L182.1,566.8 L183.4,567.1 L184.6,566.8 L185.9,566.9 L187.1,566.4 L188.4,566.7 L189.6,566.7 L190.9,567.4 L192.1,567.6 L193.4,566.7 L194.6,566.8 L195.9,567.0 L197.1,567.1 L198.4,567.5 L199.6,568.2 L200.9,568.8 L202.1,569.3 L203.4,570.6 L204.6,571.2 L205.9,572.2 L207.1,572.5 L208.4,572.1 L209.6,571.8 L210.9,571.9 L212.1,571.9 L213.4,571.0 L214.6,571.8 L215.9,571.5 L217.1,571.6 L218.4,571.4 L219.6,570.9 L220.9,571.8 L222.1,572.4 L223.4,574.3 L224.6,574.6 L225.9,574.0 L227.1,572.1 L228.4,569.9 L229.6,568.8 L230.9,567.5 L232.1,566.5 L233.4,565.9 L234.6,565.4 L235.9,565.3 L237.1,564.5 L238.4,565.1 L239.6,564.4 L240.9,564.1 L242.1,564.8 L243.4,565.5 L244.6,566.2 L245.9,565.2 L247.1,565.2 L248.4,565.0 L249.6,566.0 L250.9,567.7 L252.1,568.6 L253.4,569.5 L254.6,570.7 L255.9,571.6 L257.1,573.0 L258.4,572.9 L259.6,573.4 L260.9,575.1 L262.1,575.2 L263.4,575.2 L264.6,576.1 L265.9,575.9 L267.1,576.9 L268.4,577.9 L269.6,578.2 L270.9,578.6 L272.1,578.7 L273.4,579.4 L274.6,579.7 L275.9,580.1 L277.1,579.5 L278.4,579.5" fill="none" stroke="#f68b33" stroke-width="0.95" stroke-linejoin="round" stroke-dasharray="2.8,1.1"/>
<path d="M69.6,583.0 L70.9,582.3 L72.1,579.8 L73.4,579.6 L74.6,578.3 L75.9,578.7 L77.1,580.5 L78.4,580.4 L79.6,581.6 L80.9,581.8 L82.1,580.5 L83.4,579.3 L84.6,578.5 L85.9,579.0 L87.1,578.4 L88.4,579.2 L89.6,579.7 L90.9,580.9 L92.1,582.0 L93.4,583.6 L94.6,583.9 L95.9,583.1 L97.1,582.8 L98.4,582.8 L99.6,580.3 L100.9,579.3 L102.1,579.0 L103.4,579.4 L104.6,579.3 L105.9,579.9 L107.1,577.8 L108.4,576.6 L109.6,575.9 L110.9,576.2 L112.1,576.5 L113.4,577.4 L114.6,578.1 L115.9,576.0 L117.1,574.8 L118.4,575.0 L119.6,573.8 L120.9,573.8 L122.1,574.5 L123.4,573.3 L124.6,572.7 L125.9,574.1 L127.1,573.2 L128.4,572.7 L129.6,571.9 L130.9,573.1 L132.1,572.4 L133.4,571.9 L134.6,571.0 L135.9,570.6 L137.1,570.7 L138.4,570.1 L139.6,570.0 L140.9,570.5 L142.1,570.5 L143.4,571.9 L144.6,571.0 L145.9,570.5 L147.1,569.4 L148.4,569.4 L149.6,569.9 L150.9,571.0 L152.1,571.7 L153.4,571.2 L154.6,570.9 L155.9,572.7 L157.1,572.8 L158.4,570.9 L159.6,571.5 L160.9,571.4 L162.1,571.0 L163.4,571.2 L164.6,571.1 L165.9,571.3 L167.1,570.0 L168.4,568.9 L169.6,569.8 L170.9,568.6 L172.1,567.8 L173.4,567.6 L174.6,567.4 L175.9,567.8 L177.1,568.3 L178.4,568.8 L179.6,569.3 L180.9,569.3 L182.1,569.9 L183.4,570.2 L184.6,569.6 L185.9,569.4 L187.1,568.5 L188.4,568.4 L189.6,567.6 L190.9,568.0 L192.1,568.5 L193.4,567.2 L194.6,567.0 L195.9,567.4 L197.1,567.7 L198.4,567.7 L199.6,568.1 L200.9,568.1 L202.1,569.4 L203.4,568.7 L204.6,570.2 L205.9,569.9 L207.1,570.4 L208.4,569.1 L209.6,569.7 L210.9,569.2 L212.1,569.4 L213.4,568.8 L214.6,568.5 L215.9,569.8 L217.1,569.7 L218.4,569.8 L219.6,571.1 L220.9,572.3 L222.1,573.9 L223.4,575.4 L224.6,576.5 L225.9,574.5 L227.1,572.6 L228.4,570.9 L229.6,570.3 L230.9,570.1 L232.1,569.6 L233.4,568.8 L234.6,568.2 L235.9,568.0 L237.1,567.5 L238.4,566.9 L239.6,567.1 L240.9,567.0 L242.1,568.1 L243.4,568.6 L244.6,569.0 L245.9,568.8 L247.1,569.4 L248.4,569.8 L249.6,569.9 L250.9,571.5 L252.1,571.7 L253.4,571.8 L254.6,572.3 L255.9,572.1 L257.1,572.6 L258.4,573.5 L259.6,574.2 L260.9,574.6 L262.1,574.4 L263.4,575.6 L264.6,576.4 L265.9,576.5 L267.1,577.1 L268.4,577.5 L269.6,575.8 L270.9,574.9 L272.1,575.0 L273.4,575.8 L274.6,574.6" fill="none" stroke="#1b407e" stroke-width="1.05" stroke-linejoin="round" stroke-dasharray="3.6,1.0"/>
<path d="M69.6,557.6 L70.9,556.1 L72.1,554.4 L73.4,555.5 L74.6,553.6 L75.9,554.5 L77.1,555.4 L78.4,553.9 L79.6,555.1 L80.9,555.9 L82.1,555.3 L83.4,557.3 L84.6,559.1 L85.9,559.8 L87.1,565.4 L88.4,565.4 L89.6,563.4 L90.9,561.4 L92.1,561.4 L93.4,563.2 L94.6,564.4 L95.9,567.2 L97.1,569.6 L98.4,571.6 L99.6,565.5 L100.9,562.1 L102.1,563.7 L103.4,564.9 L104.6,565.8 L105.9,566.6 L107.1,567.7 L108.4,567.9 L109.6,567.5 L110.9,569.0 L112.1,568.8 L113.4,570.9 L114.6,571.3 L115.9,568.9 L117.1,569.5 L118.4,570.2 L119.6,568.5 L120.9,568.4 L122.1,568.9 L123.4,566.8 L124.6,567.2 L125.9,566.7 L127.1,568.3 L128.4,568.2 L129.6,566.5 L130.9,566.6 L132.1,566.5 L133.4,566.6 L134.6,565.1 L135.9,565.0 L137.1,566.5 L138.4,567.4 L139.6,565.6 L140.9,565.0 L142.1,565.2 L143.4,564.8 L144.6,566.5 L145.9,566.5 L147.1,568.1 L148.4,569.5 L149.6,568.5 L150.9,570.3 L152.1,571.4 L153.4,570.1 L154.6,569.1 L155.9,569.5 L157.1,569.0 L158.4,568.2 L159.6,570.3 L160.9,571.5 L162.1,569.4 L163.4,569.2 L164.6,567.3 L165.9,566.9 L167.1,566.3 L168.4,565.1 L169.6,564.5 L170.9,564.3 L172.1,565.1 L173.4,565.6 L174.6,565.1 L175.9,565.1 L177.1,565.5 L178.4,567.1 L179.6,566.8 L180.9,566.0 L182.1,567.2 L183.4,565.6 L184.6,564.7 L185.9,563.3 L187.1,563.0 L188.4,562.1 L189.6,561.0 L190.9,561.7 L192.1,560.3 L193.4,561.1 L194.6,559.2 L195.9,560.3 L197.1,560.4 L198.4,560.4 L199.6,561.4 L200.9,561.1 L202.1,563.1 L203.4,563.6 L204.6,564.0 L205.9,566.0 L207.1,562.7 L208.4,560.0 L209.6,558.7 L210.9,556.8 L212.1,556.4 L213.4,554.4 L214.6,554.9 L215.9,553.0 L217.1,551.2 L218.4,551.5 L219.6,548.9 L220.9,549.5 L222.1,548.8 L223.4,547.5 L224.6,546.1 L225.9,545.6 L227.1,545.2 L228.4,544.5 L229.6,543.7 L230.9,542.9 L232.1,540.2 L233.4,538.0 L234.6,537.1 L235.9,534.5 L237.1,532.6 L238.4,531.8 L239.6,531.2 L240.9,529.7 L242.1,530.1 L243.4,530.2 L244.6,529.3 L245.9,527.4 L247.1,527.0 L248.4,524.3 L249.6,524.3 L250.9,523.7 L252.1,524.2 L253.4,524.5 L254.6,525.1 L255.9,527.3 L257.1,530.7 L258.4,532.5 L259.6,536.2 L260.9,538.1 L262.1,542.4 L263.4,544.0 L264.6,545.3 L265.9,548.0 L267.1,550.7 L268.4,549.9 L269.6,547.3 L270.9,544.6 L272.1,543.0 L273.4,542.0 L274.6,539.9 L275.9,540.1 L277.1,539.5 L278.4,542.7" fill="none" stroke="#1b407e" stroke-width="1.05" stroke-linejoin="round" stroke-dasharray="3.6,1.0"/>
<path d="M69.6,577.9 L70.9,576.4 L72.1,576.0 L73.4,575.6 L74.6,576.2 L75.9,575.0 L77.1,573.8 L78.4,572.5 L79.6,574.2 L80.9,574.6 L82.1,574.0 L83.4,574.7 L84.6,573.6 L85.9,571.0 L87.1,572.5 L88.4,571.9 L89.6,571.8 L90.9,571.6 L92.1,572.2 L93.4,571.3 L94.6,570.5 L95.9,569.2 L97.1,568.5 L98.4,572.1 L99.6,570.0 L100.9,571.2 L102.1,571.3 L103.4,570.4 L104.6,570.8 L105.9,570.7 L107.1,571.1 L108.4,570.7 L109.6,572.6 L110.9,575.4 L112.1,575.6 L113.4,576.2 L114.6,574.9 L115.9,572.5 L117.1,572.2 L118.4,571.5 L119.6,570.8 L120.9,571.9 L122.1,571.5 L123.4,569.7 L124.6,569.7 L125.9,570.7 L127.1,571.1 L128.4,569.8 L129.6,570.1 L130.9,569.3 L132.1,569.8 L133.4,568.4 L134.6,569.3 L135.9,568.4 L137.1,568.8 L138.4,567.1 L139.6,567.8 L140.9,569.7 L142.1,570.3 L143.4,568.2 L144.6,567.9 L145.9,568.3 L147.1,567.8 L148.4,567.6 L149.6,567.9 L150.9,568.9 L152.1,570.4 L153.4,567.9 L154.6,565.8 L155.9,568.8 L157.1,570.5 L158.4,570.6 L159.6,569.3 L160.9,568.3 L162.1,566.6 L163.4,568.4 L164.6,568.8 L165.9,567.7 L167.1,565.5 L168.4,565.6 L169.6,564.8 L170.9,564.0 L172.1,564.0 L173.4,562.2 L174.6,562.1 L175.9,564.0 L177.1,565.2 L178.4,565.1 L179.6,566.0 L180.9,565.3 L182.1,565.9 L183.4,563.7 L184.6,562.2 L185.9,561.1 L187.1,560.6 L188.4,559.6 L189.6,558.4 L190.9,556.7 L192.1,556.3 L193.4,556.6 L194.6,554.5 L195.9,552.6 L197.1,551.1 L198.4,552.8 L199.6,554.1 L200.9,556.1 L202.1,558.0 L203.4,560.5 L204.6,563.1 L205.9,559.8 L207.1,558.2 L208.4,556.8 L209.6,555.7 L210.9,554.3 L212.1,553.6 L213.4,552.7 L214.6,550.9 L215.9,549.1 L217.1,548.5 L218.4,548.2 L219.6,545.6 L220.9,544.5 L222.1,544.9 L223.4,547.0 L224.6,548.1 L225.9,546.8 L227.1,544.4 L228.4,541.6 L229.6,541.4 L230.9,541.1 L232.1,538.7 L233.4,538.4 L234.6,536.6 L235.9,535.6 L237.1,532.7 L238.4,533.4 L239.6,531.6 L240.9,530.8 L242.1,529.9 L243.4,527.3 L244.6,527.2 L245.9,524.5 L247.1,523.8 L248.4,521.6 L249.6,518.3 L250.9,519.9 L252.1,516.4 L253.4,518.2 L254.6,522.8 L255.9,524.1 L257.1,528.6 L258.4,532.6 L259.6,535.7 L260.9,540.2 L262.1,543.7 L263.4,547.4 L264.6,552.4 L265.9,553.9 L267.1,549.2 L268.4,545.2 L269.6,542.5 L270.9,539.5 L272.1,535.7 L273.4,528.9 L274.6,529.5 L275.9,530.7 L277.1,525.0 L278.4,521.0" fill="none" stroke="#1b407e" stroke-width="1.15" stroke-linejoin="round"/>
<text transform="translate(274.40,519.32) scale(0.82,1)" font-size="7.33" text-anchor="start" font-weight="700" stroke="#000" stroke-width="0.22">KR</text>
<text transform="translate(273.50,555.22) scale(0.82,1)" font-size="7.33" text-anchor="start" font-weight="700" stroke="#000" stroke-width="0.22">TW</text>
<text transform="translate(270.50,567.42) scale(0.82,1)" font-size="7.33" text-anchor="start" font-weight="700" stroke="#000" stroke-width="0.22">JP</text>
<text transform="translate(267.00,587.32) scale(0.82,1)" font-size="7.33" text-anchor="start" font-weight="700" stroke="#000" stroke-width="0.22">TH</text>
<text transform="translate(52.30,607.30) scale(0.82,1)" font-size="6.4" text-anchor="start">Source: National sources</text>
<text x="325.20" y="128.70" font-size="8" text-anchor="start" textLength="204.60" lengthAdjust="spacingAndGlyphs" font-weight="700" stroke="#000" stroke-width="0.22">Figure 3: EMAX<tspan font-size="4.16" dy="-3.20">1</tspan><tspan dy="3.20"> capital goods imports and FAI ex. construction</tspan></text>
<text transform="translate(325.20,139.50) scale(0.82,1)" font-size="7.33" text-anchor="start">%3m/6m, saar, US$ terms</text>
<text transform="translate(449.00,139.50) scale(0.82,1)" font-size="7.33" text-anchor="start">%2q, saar, NIPA basis, GDP weighted</text>
<line x1="340.50" y1="149.50" x2="340.50" y2="228.80" stroke="#000" stroke-width="1"/>
<line x1="338.30" y1="150.00" x2="340.50" y2="150.00" stroke="#000" stroke-width="1"/>
<text transform="translate(334.20,152.62) scale(0.82,1)" font-size="7.33" text-anchor="end" font-weight="700" stroke="#000" stroke-width="0.22">70</text>
<line x1="338.30" y1="165.66" x2="340.50" y2="165.66" stroke="#000" stroke-width="1"/>
<text transform="translate(334.20,168.28) scale(0.82,1)" font-size="7.33" text-anchor="end" font-weight="700" stroke="#000" stroke-width="0.22">44</text>
<line x1="338.30" y1="181.32" x2="340.50" y2="181.32" stroke="#000" stroke-width="1"/>
<text transform="translate(334.20,183.94) scale(0.82,1)" font-size="7.33" text-anchor="end" font-weight="700" stroke="#000" stroke-width="0.22">18</text>
<line x1="338.30" y1="196.98" x2="340.50" y2="196.98" stroke="#000" stroke-width="1"/>
<text transform="translate(334.20,199.60) scale(0.82,1)" font-size="7.33" text-anchor="end" font-weight="700" stroke="#000" stroke-width="0.22">-7</text>
<line x1="338.30" y1="212.64" x2="340.50" y2="212.64" stroke="#000" stroke-width="1"/>
<text transform="translate(334.20,215.26) scale(0.82,1)" font-size="7.33" text-anchor="end" font-weight="700" stroke="#000" stroke-width="0.22">-33</text>
<line x1="338.30" y1="228.30" x2="340.50" y2="228.30" stroke="#000" stroke-width="1"/>
<text transform="translate(334.20,230.92) scale(0.82,1)" font-size="7.33" text-anchor="end" font-weight="700" stroke="#000" stroke-width="0.22">-58</text>
<line x1="340.00" y1="228.30" x2="545.20" y2="228.30" stroke="#000" stroke-width="1"/>
<line x1="340.50" y1="228.30" x2="340.50" y2="230.90" stroke="#000" stroke-width="1"/>
<line x1="355.09" y1="228.30" x2="355.09" y2="230.90" stroke="#000" stroke-width="1"/>
<line x1="369.67" y1="228.30" x2="369.67" y2="230.90" stroke="#000" stroke-width="1"/>
<line x1="384.26" y1="228.30" x2="384.26" y2="230.90" stroke="#000" stroke-width="1"/>
<line x1="398.84" y1="228.30" x2="398.84" y2="230.90" stroke="#000" stroke-width="1"/>
<line x1="413.43" y1="228.30" x2="413.43" y2="230.90" stroke="#000" stroke-width="1"/>
<line x1="428.01" y1="228.30" x2="428.01" y2="230.90" stroke="#000" stroke-width="1"/>
<line x1="442.60" y1="228.30" x2="442.60" y2="230.90" stroke="#000" stroke-width="1"/>
<line x1="457.19" y1="228.30" x2="457.19" y2="230.90" stroke="#000" stroke-width="1"/>
<line x1="471.77" y1="228.30" x2="471.77" y2="230.90" stroke="#000" stroke-width="1"/>
<line x1="486.36" y1="228.30" x2="486.36" y2="230.90" stroke="#000" stroke-width="1"/>
<line x1="500.94" y1="228.30" x2="500.94" y2="230.90" stroke="#000" stroke-width="1"/>
<line x1="515.53" y1="228.30" x2="515.53" y2="230.90" stroke="#000" stroke-width="1"/>
<line x1="530.11" y1="228.30" x2="530.11" y2="230.90" stroke="#000" stroke-width="1"/>
<line x1="544.70" y1="228.30" x2="544.70" y2="230.90" stroke="#000" stroke-width="1"/>
<text transform="translate(340.50,240.62) scale(0.82,1)" font-size="7.33" text-anchor="middle" font-weight="700" stroke="#000" stroke-width="0.22">10</text>
<text transform="translate(369.67,240.62) scale(0.82,1)" font-size="7.33" text-anchor="middle" font-weight="700" stroke="#000" stroke-width="0.22">12</text>
<text transform="translate(398.84,240.62) scale(0.82,1)" font-size="7.33" text-anchor="middle" font-weight="700" stroke="#000" stroke-width="0.22">14</text>
<text transform="translate(428.01,240.62) scale(0.82,1)" font-size="7.33" text-anchor="middle" font-weight="700" stroke="#000" stroke-width="0.22">16</text>
<text transform="translate(457.19,240.62) scale(0.82,1)" font-size="7.33" text-anchor="middle" font-weight="700" stroke="#000" stroke-width="0.22">18</text>
<text transform="translate(486.36,240.62) scale(0.82,1)" font-size="7.33" text-anchor="middle" font-weight="700" stroke="#000" stroke-width="0.22">20</text>
<text transform="translate(515.53,240.62) scale(0.82,1)" font-size="7.33" text-anchor="middle" font-weight="700" stroke="#000" stroke-width="0.22">22</text>
<text transform="translate(544.70,240.62) scale(0.82,1)" font-size="7.33" text-anchor="middle" font-weight="700" stroke="#000" stroke-width="0.22">24</text>
<line x1="544.70" y1="149.50" x2="544.70" y2="228.80" stroke="#000" stroke-width="1"/>
<line x1="544.70" y1="150.00" x2="546.90" y2="150.00" stroke="#000" stroke-width="1"/>
<text transform="translate(550.80,152.62) scale(0.82,1)" font-size="7.33" text-anchor="start" font-weight="700" stroke="#000" stroke-width="0.22">15</text>
<line x1="544.70" y1="165.66" x2="546.90" y2="165.66" stroke="#000" stroke-width="1"/>
<text transform="translate(550.80,168.28) scale(0.82,1)" font-size="7.33" text-anchor="start" font-weight="700" stroke="#000" stroke-width="0.22">10</text>
<line x1="544.70" y1="181.32" x2="546.90" y2="181.32" stroke="#000" stroke-width="1"/>
<text transform="translate(550.80,183.94) scale(0.82,1)" font-size="7.33" text-anchor="start" font-weight="700" stroke="#000" stroke-width="0.22">5</text>
<line x1="544.70" y1="196.98" x2="546.90" y2="196.98" stroke="#000" stroke-width="1"/>
<text transform="translate(550.80,199.60) scale(0.82,1)" font-size="7.33" text-anchor="start" font-weight="700" stroke="#000" stroke-width="0.22">0</text>
<line x1="544.70" y1="212.64" x2="546.90" y2="212.64" stroke="#000" stroke-width="1"/>
<text transform="translate(550.80,215.26) scale(0.82,1)" font-size="7.33" text-anchor="start" font-weight="700" stroke="#000" stroke-width="0.22">-5</text>
<line x1="544.70" y1="228.30" x2="546.90" y2="228.30" stroke="#000" stroke-width="1"/>
<text transform="translate(550.80,230.92) scale(0.82,1)" font-size="7.33" text-anchor="start" font-weight="700" stroke="#000" stroke-width="0.22">-10</text>
<line x1="365.90" y1="197.35" x2="544.70" y2="197.35" stroke="#000" stroke-width="1.1"/>
<path d="M340.5,169.2 L341.6,166.9 L342.5,168.5 L343.5,170.3 L344.4,167.1 L345.1,163.9 L346.0,165.3 L346.9,166.9 L348.0,170.8 L349.2,174.9 L350.3,178.4 L351.5,181.8 L352.6,180.0 L353.7,178.4 L354.9,180.6 L356.0,182.9 L357.2,184.5 L358.3,186.4 L359.5,188.6 L360.6,190.9 L361.8,190.0 L362.9,189.1 L363.8,189.6 L364.5,188.2 L365.6,191.4 L366.8,194.4 L367.9,195.1 L369.1,195.5 L370.4,189.1 L372.1,182.9 L373.7,181.8 L375.0,180.6 L376.2,182.2 L377.3,184.1 L378.2,189.8 L378.9,195.5 L380.1,197.3 L381.2,198.9 L382.8,195.5 L384.2,192.1 L385.5,190.9 L386.9,190.5 L388.1,191.9 L389.2,193.2 L391.0,195.1 L392.6,196.7 L394.2,194.4 L396.1,192.1 L397.9,192.8 L399.5,193.7 L401.1,192.1 L402.9,190.5 L404.8,192.3 L406.4,194.4 L408.0,192.8 L409.8,190.9 L411.6,192.1 L413.2,193.2 L414.8,191.9 L416.2,190.5 L417.6,194.1 L419.0,197.8 L420.3,196.0 L421.7,194.4 L423.1,192.1 L424.7,189.8 L426.3,191.4 L427.6,193.2 L429.0,196.0 L430.4,198.9 L431.5,197.8 L432.7,196.7 L433.8,192.8 L435.0,188.6 L436.1,185.9 L437.3,182.9 L438.4,181.8 L439.5,180.6 L440.7,182.2 L441.8,184.1 L443.0,183.6 L444.1,182.9 L445.3,182.2 L446.4,181.8 L447.5,184.5 L448.7,187.5 L449.8,186.8 L451.0,186.4 L452.1,188.6 L453.3,190.5 L454.4,189.6 L455.6,188.6 L456.8,183.6 L458.2,180.6 L459.1,183.6 L460.0,186.4 L461.2,189.1 L462.3,192.1 L463.9,195.1 L465.3,197.8 L466.7,197.3 L468.0,196.7 L469.9,196.0 L471.5,195.1 L472.6,196.4 L473.7,197.8 L475.4,193.2 L476.7,188.6 L478.1,189.8 L479.5,190.9 L480.6,190.5 L481.8,189.8 L483.1,191.4 L484.5,193.2 L485.6,192.8 L486.8,192.1 L487.9,195.1 L489.1,197.8 L490.4,200.1 L492.1,202.4 L493.2,200.5 L494.3,198.9 L495.5,193.7 L496.6,188.6 L497.8,181.8 L498.9,174.9 L499.8,172.6 L500.7,170.3 L501.7,171.5 L502.3,172.6 L503.3,170.8 L504.2,169.2 L505.1,172.2 L505.8,174.9 L506.9,178.4 L508.1,181.8 L509.2,182.9 L510.4,184.1 L511.5,185.2 L512.6,186.4 L514.0,183.6 L515.4,180.6 L516.3,182.9 L517.2,185.2 L518.8,186.4 L520.2,187.5 L521.6,188.2 L522.9,188.6 L524.1,186.4 L525.2,184.1 L526.4,187.5 L527.5,190.9 L528.7,194.4 L529.8,197.8 L530.9,198.9 L532.1,200.1 L533.2,201.2 L533.9,199.2 L534.8,197.3 L536.2,196.0 L537.3,194.4 L538.3,197.3 L539.0,200.1 L540.1,198.9 L541.2,197.8 L542.4,196.7 L543.5,195.5" fill="none" stroke="#1b407e" stroke-width="1.1" stroke-linejoin="round"/>
<path d="M340.5,160.1 L341.6,160.1 L342.1,164.6 L342.3,169.2 L344.6,170.3 L346.9,170.3 L347.6,172.6 L348.0,174.9 L351.5,175.2 L354.9,175.4 L355.8,179.5 L356.7,184.1 L359.5,185.2 L360.2,188.2 L360.6,190.5 L364.0,190.9 L365.0,193.2 L365.9,195.5 L369.8,195.5 L370.7,189.1 L371.6,182.9 L376.6,182.9 L377.5,188.2 L378.2,193.2 L381.2,193.7 L382.1,192.3 L382.8,190.9 L386.9,190.9 L387.8,192.1 L388.8,193.2 L393.8,193.7 L394.7,192.1 L395.6,190.5 L401.8,190.5 L402.5,192.1 L402.9,193.7 L404.8,192.8 L406.4,192.1 L409.8,193.2 L413.2,192.8 L416.7,192.1 L417.6,190.5 L418.5,189.1 L423.5,189.8 L424.4,191.4 L425.4,192.8 L429.2,193.2 L430.4,194.4 L431.5,195.5 L433.1,194.4 L434.1,189.1 L435.0,184.1 L437.7,183.6 L440.7,182.9 L442.3,184.5 L444.1,186.4 L446.4,185.9 L448.7,185.2 L451.0,184.1 L453.3,184.5 L454.4,186.8 L455.6,189.1 L456.6,188.6 L458.9,187.5 L461.2,190.5 L463.5,193.2 L466.9,193.9 L470.3,194.4 L471.2,197.3 L472.1,200.1 L475.4,200.1 L476.0,196.0 L476.7,192.1 L480.6,192.1 L485.2,192.1 L486.3,195.5 L487.5,198.9 L488.4,200.5 L489.1,202.4 L490.0,211.5 L490.9,220.7 L493.2,221.8 L493.9,212.7 L494.6,203.5 L496.6,203.5 L497.3,186.4 L498.2,169.2 L500.7,168.7 L501.4,172.6 L502.3,177.2 L504.6,177.2 L505.5,179.5 L506.5,181.8 L508.8,182.9 L509.2,186.4 L509.7,189.8 L512.6,189.3 L514.9,189.1 L517.9,188.2 L520.6,187.5 L521.6,184.1 L522.5,180.6 L526.4,180.6 L527.3,183.6 L528.2,186.4 L528.9,190.9 L529.8,195.5 L530.9,196.7 L532.1,197.8 L536.7,197.8 L537.8,199.6 L539.0,201.2 L540.1,198.9 L541.2,196.7 L543.5,196.7" fill="none" stroke="#f68b33" stroke-width="1.15" stroke-linejoin="round"/>
<text transform="translate(346.90,155.12) scale(0.82,1)" font-size="7.33" text-anchor="start" font-weight="700" stroke="#000" stroke-width="0.22">Capital goods imports</text>
<line x1="385.80" y1="164.20" x2="355.90" y2="164.20" stroke="#1b407e" stroke-width="0.9"/>
<path d="M350.90,164.20 L359.50,162.30 L359.50,166.10 Z" fill="#1b407e"/>
<text transform="translate(432.70,159.62) scale(0.82,1)" font-size="7.33" text-anchor="start">y=1.41 + 0.2*x</text>
<text transform="translate(432.70,167.92) scale(0.82,1)" font-size="7.33" text-anchor="start">R-sq=0.69,StdErr=1.67</text>
<line x1="444.00" y1="209.70" x2="475.10" y2="209.70" stroke="#f68b33" stroke-width="0.9"/>
<path d="M480.10,209.70 L471.50,207.80 L471.50,211.60 Z" fill="#f68b33"/>
<text transform="translate(421.90,222.82) scale(0.82,1)" font-size="7.33" text-anchor="start" font-weight="700" stroke="#000" stroke-width="0.22">FAI ex construction</text>
<text transform="translate(325.20,247.60) scale(0.82,1)" font-size="6.4" text-anchor="start">Source: National sources; 1. ID, KR, MY, PH, TW, TH</text>
<text x="325.20" y="266.60" font-size="8" text-anchor="start" textLength="193.20" lengthAdjust="spacingAndGlyphs" font-weight="700" stroke="#000" stroke-width="0.22">Figure 4: Korea capital goods imports and FAI ex. structures</text>
<text transform="translate(325.20,278.00) scale(0.82,1)" font-size="7.33" text-anchor="start">%3m/6m, saar, US$ terms</text>
<text transform="translate(401.80,278.50) scale(0.82,1)" font-size="7.33" text-anchor="start">y=1.06 + 0.2*x</text>
<text transform="translate(401.80,286.70) scale(0.82,1)" font-size="7.33" text-anchor="start">R-sq=0.57,StdErr=2.26</text>
<text transform="translate(493.90,278.00) scale(0.82,1)" font-size="7.33" text-anchor="start">%2q, saar, NIPA terms</text>
<line x1="340.50" y1="288.10" x2="340.50" y2="368.30" stroke="#000" stroke-width="1"/>
<line x1="338.30" y1="288.60" x2="340.50" y2="288.60" stroke="#000" stroke-width="1"/>
<text transform="translate(334.20,291.22) scale(0.82,1)" font-size="7.33" text-anchor="end" font-weight="700" stroke="#000" stroke-width="0.22">69</text>
<line x1="338.30" y1="304.44" x2="340.50" y2="304.44" stroke="#000" stroke-width="1"/>
<text transform="translate(334.20,307.06) scale(0.82,1)" font-size="7.33" text-anchor="end" font-weight="700" stroke="#000" stroke-width="0.22">44</text>
<line x1="338.30" y1="320.28" x2="340.50" y2="320.28" stroke="#000" stroke-width="1"/>
<text transform="translate(334.20,322.90) scale(0.82,1)" font-size="7.33" text-anchor="end" font-weight="700" stroke="#000" stroke-width="0.22">19</text>
<line x1="338.30" y1="336.12" x2="340.50" y2="336.12" stroke="#000" stroke-width="1"/>
<text transform="translate(334.20,338.74) scale(0.82,1)" font-size="7.33" text-anchor="end" font-weight="700" stroke="#000" stroke-width="0.22">-5</text>
<line x1="338.30" y1="351.96" x2="340.50" y2="351.96" stroke="#000" stroke-width="1"/>
<text transform="translate(334.20,354.58) scale(0.82,1)" font-size="7.33" text-anchor="end" font-weight="700" stroke="#000" stroke-width="0.22">-30</text>
<line x1="338.30" y1="367.80" x2="340.50" y2="367.80" stroke="#000" stroke-width="1"/>
<text transform="translate(334.20,370.42) scale(0.82,1)" font-size="7.33" text-anchor="end" font-weight="700" stroke="#000" stroke-width="0.22">-54</text>
<line x1="340.00" y1="367.80" x2="545.20" y2="367.80" stroke="#000" stroke-width="1"/>
<line x1="340.50" y1="367.80" x2="340.50" y2="370.40" stroke="#000" stroke-width="1"/>
<line x1="355.09" y1="367.80" x2="355.09" y2="370.40" stroke="#000" stroke-width="1"/>
<line x1="369.67" y1="367.80" x2="369.67" y2="370.40" stroke="#000" stroke-width="1"/>
<line x1="384.26" y1="367.80" x2="384.26" y2="370.40" stroke="#000" stroke-width="1"/>
<line x1="398.84" y1="367.80" x2="398.84" y2="370.40" stroke="#000" stroke-width="1"/>
<line x1="413.43" y1="367.80" x2="413.43" y2="370.40" stroke="#000" stroke-width="1"/>
<line x1="428.01" y1="367.80" x2="428.01" y2="370.40" stroke="#000" stroke-width="1"/>
<line x1="442.60" y1="367.80" x2="442.60" y2="370.40" stroke="#000" stroke-width="1"/>
<line x1="457.19" y1="367.80" x2="457.19" y2="370.40" stroke="#000" stroke-width="1"/>
<line x1="471.77" y1="367.80" x2="471.77" y2="370.40" stroke="#000" stroke-width="1"/>
<line x1="486.36" y1="367.80" x2="486.36" y2="370.40" stroke="#000" stroke-width="1"/>
<line x1="500.94" y1="367.80" x2="500.94" y2="370.40" stroke="#000" stroke-width="1"/>
<line x1="515.53" y1="367.80" x2="515.53" y2="370.40" stroke="#000" stroke-width="1"/>
<line x1="530.11" y1="367.80" x2="530.11" y2="370.40" stroke="#000" stroke-width="1"/>
<line x1="544.70" y1="367.80" x2="544.70" y2="370.40" stroke="#000" stroke-width="1"/>
<text transform="translate(340.50,378.62) scale(0.82,1)" font-size="7.33" text-anchor="middle" font-weight="700" stroke="#000" stroke-width="0.22">10</text>
<text transform="translate(369.67,378.62) scale(0.82,1)" font-size="7.33" text-anchor="middle" font-weight="700" stroke="#000" stroke-width="0.22">12</text>
<text transform="translate(398.84,378.62) scale(0.82,1)" font-size="7.33" text-anchor="middle" font-weight="700" stroke="#000" stroke-width="0.22">14</text>
<text transform="translate(428.01,378.62) scale(0.82,1)" font-size="7.33" text-anchor="middle" font-weight="700" stroke="#000" stroke-width="0.22">16</text>
<text transform="translate(457.19,378.62) scale(0.82,1)" font-size="7.33" text-anchor="middle" font-weight="700" stroke="#000" stroke-width="0.22">18</text>
<text transform="translate(486.36,378.62) scale(0.82,1)" font-size="7.33" text-anchor="middle" font-weight="700" stroke="#000" stroke-width="0.22">20</text>
<text transform="translate(515.53,378.62) scale(0.82,1)" font-size="7.33" text-anchor="middle" font-weight="700" stroke="#000" stroke-width="0.22">22</text>
<text transform="translate(544.70,378.62) scale(0.82,1)" font-size="7.33" text-anchor="middle" font-weight="700" stroke="#000" stroke-width="0.22">24</text>
<line x1="544.70" y1="288.10" x2="544.70" y2="368.30" stroke="#000" stroke-width="1"/>
<line x1="544.70" y1="288.60" x2="546.90" y2="288.60" stroke="#000" stroke-width="1"/>
<text transform="translate(550.80,291.22) scale(0.82,1)" font-size="7.33" text-anchor="start" font-weight="700" stroke="#000" stroke-width="0.22">15</text>
<line x1="544.70" y1="304.44" x2="546.90" y2="304.44" stroke="#000" stroke-width="1"/>
<text transform="translate(550.80,307.06) scale(0.82,1)" font-size="7.33" text-anchor="start" font-weight="700" stroke="#000" stroke-width="0.22">10</text>
<line x1="544.70" y1="320.28" x2="546.90" y2="320.28" stroke="#000" stroke-width="1"/>
<text transform="translate(550.80,322.90) scale(0.82,1)" font-size="7.33" text-anchor="start" font-weight="700" stroke="#000" stroke-width="0.22">5</text>
<line x1="544.70" y1="336.12" x2="546.90" y2="336.12" stroke="#000" stroke-width="1"/>
<text transform="translate(550.80,338.74) scale(0.82,1)" font-size="7.33" text-anchor="start" font-weight="700" stroke="#000" stroke-width="0.22">0</text>
<line x1="544.70" y1="351.96" x2="546.90" y2="351.96" stroke="#000" stroke-width="1"/>
<text transform="translate(550.80,354.58) scale(0.82,1)" font-size="7.33" text-anchor="start" font-weight="700" stroke="#000" stroke-width="0.22">-5</text>
<line x1="544.70" y1="367.80" x2="546.90" y2="367.80" stroke="#000" stroke-width="1"/>
<text transform="translate(550.80,370.42) scale(0.82,1)" font-size="7.33" text-anchor="start" font-weight="700" stroke="#000" stroke-width="0.22">-10</text>
<line x1="367.50" y1="335.60" x2="544.70" y2="335.60" stroke="#000" stroke-width="1.1"/>
<path d="M340.5,313.0 L341.4,311.7 L342.3,310.1 L343.2,307.5 L344.1,304.8 L345.1,307.1 L345.7,308.9 L346.9,311.7 L348.0,313.9 L348.9,313.5 L349.9,313.0 L350.8,318.1 L351.5,322.6 L352.6,320.3 L353.7,318.1 L354.9,320.3 L356.0,322.6 L357.0,325.4 L357.9,328.4 L359.0,326.8 L359.9,324.9 L360.8,327.2 L361.8,329.5 L362.9,326.8 L364.0,323.8 L365.0,326.1 L365.9,328.4 L366.8,332.2 L367.5,336.4 L368.6,335.9 L369.8,335.2 L370.9,333.6 L372.1,331.8 L373.2,331.3 L374.3,330.6 L375.5,333.6 L376.6,336.4 L377.5,340.9 L378.2,345.5 L378.9,347.3 L379.6,348.9 L380.7,345.5 L381.9,342.1 L383.0,335.9 L384.2,329.5 L385.5,327.2 L386.9,325.4 L388.1,329.0 L389.2,332.9 L390.6,330.0 L392.0,327.2 L393.1,328.4 L394.2,329.5 L395.4,327.2 L396.5,325.4 L397.7,329.0 L398.8,332.9 L400.2,331.8 L401.8,330.6 L402.9,331.3 L404.1,331.8 L405.2,328.4 L406.4,324.9 L407.5,327.7 L408.7,330.6 L409.8,331.8 L410.9,332.9 L412.1,327.7 L413.2,322.6 L414.4,319.4 L415.5,316.2 L416.4,320.3 L417.1,324.9 L418.0,330.6 L419.0,336.4 L420.1,338.2 L421.2,339.8 L422.4,335.9 L423.5,331.8 L424.7,329.5 L425.8,327.2 L427.0,331.3 L428.1,335.2 L429.2,338.2 L430.4,340.9 L431.5,340.5 L432.7,339.8 L433.6,334.5 L434.5,329.5 L435.7,327.7 L436.8,326.1 L438.2,323.8 L439.5,321.5 L440.7,320.8 L441.8,320.3 L443.0,319.2 L444.1,318.1 L445.3,318.5 L446.4,319.2 L447.5,318.5 L448.7,318.1 L449.8,319.2 L451.0,320.3 L452.1,323.1 L453.3,326.1 L454.4,327.7 L455.6,329.5 L455.7,328.4 L456.6,326.1 L457.7,327.2 L458.9,328.4 L460.3,329.5 L461.6,330.6 L462.5,332.9 L463.5,335.2 L464.6,339.1 L465.7,343.2 L466.9,340.9 L468.0,338.6 L469.2,335.9 L470.3,333.6 L471.5,335.4 L472.6,337.5 L473.7,338.2 L474.9,338.6 L476.0,335.2 L477.2,331.8 L478.3,332.9 L479.5,334.1 L480.4,332.9 L481.3,331.8 L482.4,335.9 L483.6,339.8 L484.7,339.1 L485.9,338.2 L487.0,335.4 L488.2,332.9 L489.3,330.0 L490.4,327.2 L491.6,326.1 L492.7,324.9 L493.9,322.6 L495.0,320.3 L496.2,320.6 L497.3,320.8 L498.7,318.3 L500.1,315.8 L501.2,314.4 L502.3,313.0 L503.5,314.4 L504.6,315.8 L505.8,316.2 L506.9,316.9 L508.1,319.9 L509.2,322.6 L510.4,324.9 L511.5,327.2 L513.3,322.6 L514.9,318.5 L516.1,321.3 L517.2,323.8 L518.4,325.4 L519.5,327.2 L520.6,328.4 L521.8,329.5 L522.9,326.1 L524.1,322.6 L525.2,323.1 L526.4,323.8 L527.1,326.8 L527.5,329.5 L528.4,333.6 L529.3,337.5 L530.5,339.1 L531.6,340.5 L532.8,341.9 L533.9,343.2 L535.3,340.9 L536.7,338.6 L537.8,340.0 L539.0,341.4 L540.1,338.2 L541.2,335.2" fill="none" stroke="#1b407e" stroke-width="1.1" stroke-linejoin="round"/>
<path d="M340.5,300.9 L341.4,297.9 L342.3,294.7 L344.6,294.7 L345.3,301.1 L345.7,307.8 L348.0,307.8 L348.9,317.6 L349.6,327.2 L352.6,327.2 L353.3,324.5 L353.7,321.5 L356.0,321.5 L356.7,324.9 L357.2,328.4 L360.6,328.4 L361.8,324.5 L362.9,320.3 L365.2,320.3 L366.1,326.8 L366.8,332.9 L369.8,332.9 L370.7,324.9 L371.6,316.9 L374.3,316.9 L375.3,325.4 L375.9,334.1 L377.3,335.2 L377.8,342.8 L378.2,350.1 L382.3,350.1 L383.0,345.1 L383.7,339.8 L385.8,340.9 L387.4,343.2 L389.2,343.2 L390.1,336.8 L390.8,330.6 L392.6,330.6 L393.3,326.1 L393.8,321.5 L395.6,321.5 L396.5,324.5 L397.2,327.2 L401.8,327.7 L406.4,329.5 L409.8,330.6 L410.7,329.0 L411.6,327.2 L413.9,328.4 L415.5,324.9 L416.7,326.1 L417.6,328.4 L418.5,330.6 L423.5,330.6 L425.8,332.9 L428.6,334.1 L429.2,337.5 L429.7,340.9 L432.7,340.9 L433.4,335.2 L434.1,329.5 L435.0,324.5 L436.1,319.2 L439.5,318.1 L440.5,316.0 L441.4,313.9 L444.1,313.0 L447.5,311.2 L449.8,311.2 L450.8,313.5 L451.4,315.8 L453.3,315.8 L454.0,323.1 L454.4,330.6 L456.0,331.3 L456.6,331.3 L457.7,328.4 L462.3,329.0 L463.5,332.9 L464.6,338.6 L465.3,345.5 L465.7,352.8 L468.5,353.5 L469.2,346.9 L469.9,340.5 L472.1,340.5 L473.3,344.4 L475.4,344.4 L476.0,339.1 L476.5,334.1 L479.9,334.1 L480.6,330.4 L481.1,326.8 L482.9,327.2 L484.5,331.8 L486.8,331.8 L488.2,327.7 L492.1,327.2 L493.0,324.5 L493.7,321.5 L495.9,320.3 L498.9,321.5 L499.8,318.5 L500.5,315.3 L504.6,314.6 L506.5,318.1 L507.6,322.6 L508.3,331.3 L508.8,339.8 L512.6,339.8 L513.8,336.4 L517.2,336.4 L518.8,334.1 L520.6,337.5 L522.9,337.5 L523.6,329.5 L524.1,321.5 L526.4,320.3 L529.3,322.6 L529.8,328.4 L530.3,334.1 L533.2,334.5 L535.5,337.5 L539.0,338.2 L541.2,342.1 L543.5,342.8" fill="none" stroke="#f68b33" stroke-width="1.15" stroke-linejoin="round"/>
<text transform="translate(372.70,297.82) scale(0.82,1)" font-size="7.33" text-anchor="start" font-weight="700" stroke="#000" stroke-width="0.22">Capital goods imports</text>
<line x1="406.80" y1="305.50" x2="376.40" y2="305.50" stroke="#1b407e" stroke-width="0.9"/>
<path d="M371.40,305.50 L380.00,303.60 L380.00,307.40 Z" fill="#1b407e"/>
<line x1="472.60" y1="354.00" x2="504.40" y2="354.00" stroke="#f68b33" stroke-width="0.9"/>
<path d="M509.40,354.00 L500.80,352.10 L500.80,355.90 Z" fill="#f68b33"/>
<text transform="translate(446.80,364.62) scale(0.82,1)" font-size="7.33" text-anchor="start" font-weight="700" stroke="#000" stroke-width="0.22">FAI ex construction</text>
<text transform="translate(325.20,385.50) scale(0.82,1)" font-size="6.4" text-anchor="start">Source: SK</text>
<text x="325.20" y="408.00" font-size="8" text-anchor="start" textLength="197.80" lengthAdjust="spacingAndGlyphs" font-weight="700" stroke="#000" stroke-width="0.22">Figure 5: Taiwan capital goods imports and FAI ex. structures</text>
<text transform="translate(325.20,418.30) scale(0.82,1)" font-size="7.33" text-anchor="start">%3m/6m, saar, US$ terms</text>
<text transform="translate(405.20,419.00) scale(0.82,1)" font-size="7.33" text-anchor="start">y=1.03 + 0.17*x</text>
<text transform="translate(405.20,428.00) scale(0.82,1)" font-size="7.33" text-anchor="start">R-sq=0.71,StdErr=3.03</text>
<text transform="translate(493.90,418.30) scale(0.82,1)" font-size="7.33" text-anchor="start">%2q, saar, NIPA terms</text>
<line x1="344.60" y1="428.50" x2="344.60" y2="508.00" stroke="#000" stroke-width="1"/>
<line x1="342.40" y1="429.00" x2="344.60" y2="429.00" stroke="#000" stroke-width="1"/>
<text transform="translate(338.30,431.62) scale(0.82,1)" font-size="7.33" text-anchor="end" font-weight="700" stroke="#000" stroke-width="0.22">170</text>
<line x1="342.40" y1="444.70" x2="344.60" y2="444.70" stroke="#000" stroke-width="1"/>
<text transform="translate(338.30,447.32) scale(0.82,1)" font-size="7.33" text-anchor="end" font-weight="700" stroke="#000" stroke-width="0.22">111</text>
<line x1="342.40" y1="460.40" x2="344.60" y2="460.40" stroke="#000" stroke-width="1"/>
<text transform="translate(338.30,463.02) scale(0.82,1)" font-size="7.33" text-anchor="end" font-weight="700" stroke="#000" stroke-width="0.22">53</text>
<line x1="342.40" y1="476.10" x2="344.60" y2="476.10" stroke="#000" stroke-width="1"/>
<text transform="translate(338.30,478.72) scale(0.82,1)" font-size="7.33" text-anchor="end" font-weight="700" stroke="#000" stroke-width="0.22">-6</text>
<line x1="342.40" y1="491.80" x2="344.60" y2="491.80" stroke="#000" stroke-width="1"/>
<text transform="translate(338.30,494.42) scale(0.82,1)" font-size="7.33" text-anchor="end" font-weight="700" stroke="#000" stroke-width="0.22">-65</text>
<line x1="342.40" y1="507.50" x2="344.60" y2="507.50" stroke="#000" stroke-width="1"/>
<text transform="translate(338.30,510.12) scale(0.82,1)" font-size="7.33" text-anchor="end" font-weight="700" stroke="#000" stroke-width="0.22">-123</text>
<line x1="344.10" y1="507.50" x2="545.20" y2="507.50" stroke="#000" stroke-width="1"/>
<line x1="344.60" y1="507.50" x2="344.60" y2="510.10" stroke="#000" stroke-width="1"/>
<line x1="358.89" y1="507.50" x2="358.89" y2="510.10" stroke="#000" stroke-width="1"/>
<line x1="373.19" y1="507.50" x2="373.19" y2="510.10" stroke="#000" stroke-width="1"/>
<line x1="387.48" y1="507.50" x2="387.48" y2="510.10" stroke="#000" stroke-width="1"/>
<line x1="401.77" y1="507.50" x2="401.77" y2="510.10" stroke="#000" stroke-width="1"/>
<line x1="416.06" y1="507.50" x2="416.06" y2="510.10" stroke="#000" stroke-width="1"/>
<line x1="430.36" y1="507.50" x2="430.36" y2="510.10" stroke="#000" stroke-width="1"/>
<line x1="444.65" y1="507.50" x2="444.65" y2="510.10" stroke="#000" stroke-width="1"/>
<line x1="458.94" y1="507.50" x2="458.94" y2="510.10" stroke="#000" stroke-width="1"/>
<line x1="473.24" y1="507.50" x2="473.24" y2="510.10" stroke="#000" stroke-width="1"/>
<line x1="487.53" y1="507.50" x2="487.53" y2="510.10" stroke="#000" stroke-width="1"/>
<line x1="501.82" y1="507.50" x2="501.82" y2="510.10" stroke="#000" stroke-width="1"/>
<line x1="516.11" y1="507.50" x2="516.11" y2="510.10" stroke="#000" stroke-width="1"/>
<line x1="530.41" y1="507.50" x2="530.41" y2="510.10" stroke="#000" stroke-width="1"/>
<line x1="544.70" y1="507.50" x2="544.70" y2="510.10" stroke="#000" stroke-width="1"/>
<text transform="translate(344.60,519.32) scale(0.82,1)" font-size="7.33" text-anchor="middle" font-weight="700" stroke="#000" stroke-width="0.22">10</text>
<text transform="translate(373.19,519.32) scale(0.82,1)" font-size="7.33" text-anchor="middle" font-weight="700" stroke="#000" stroke-width="0.22">12</text>
<text transform="translate(401.77,519.32) scale(0.82,1)" font-size="7.33" text-anchor="middle" font-weight="700" stroke="#000" stroke-width="0.22">14</text>
<text transform="translate(430.36,519.32) scale(0.82,1)" font-size="7.33" text-anchor="middle" font-weight="700" stroke="#000" stroke-width="0.22">16</text>
<text transform="translate(458.94,519.32) scale(0.82,1)" font-size="7.33" text-anchor="middle" font-weight="700" stroke="#000" stroke-width="0.22">18</text>
<text transform="translate(487.53,519.32) scale(0.82,1)" font-size="7.33" text-anchor="middle" font-weight="700" stroke="#000" stroke-width="0.22">20</text>
<text transform="translate(516.11,519.32) scale(0.82,1)" font-size="7.33" text-anchor="middle" font-weight="700" stroke="#000" stroke-width="0.22">22</text>
<text transform="translate(544.70,519.32) scale(0.82,1)" font-size="7.33" text-anchor="middle" font-weight="700" stroke="#000" stroke-width="0.22">24</text>
<line x1="544.70" y1="428.50" x2="544.70" y2="508.00" stroke="#000" stroke-width="1"/>
<line x1="544.70" y1="429.00" x2="546.90" y2="429.00" stroke="#000" stroke-width="1"/>
<text transform="translate(550.80,431.62) scale(0.82,1)" font-size="7.33" text-anchor="start" font-weight="700" stroke="#000" stroke-width="0.22">30</text>
<line x1="544.70" y1="444.70" x2="546.90" y2="444.70" stroke="#000" stroke-width="1"/>
<text transform="translate(550.80,447.32) scale(0.82,1)" font-size="7.33" text-anchor="start" font-weight="700" stroke="#000" stroke-width="0.22">20</text>
<line x1="544.70" y1="460.40" x2="546.90" y2="460.40" stroke="#000" stroke-width="1"/>
<text transform="translate(550.80,463.02) scale(0.82,1)" font-size="7.33" text-anchor="start" font-weight="700" stroke="#000" stroke-width="0.22">10</text>
<line x1="544.70" y1="476.10" x2="546.90" y2="476.10" stroke="#000" stroke-width="1"/>
<text transform="translate(550.80,478.72) scale(0.82,1)" font-size="7.33" text-anchor="start" font-weight="700" stroke="#000" stroke-width="0.22">0</text>
<line x1="544.70" y1="491.80" x2="546.90" y2="491.80" stroke="#000" stroke-width="1"/>
<text transform="translate(550.80,494.42) scale(0.82,1)" font-size="7.33" text-anchor="start" font-weight="700" stroke="#000" stroke-width="0.22">-10</text>
<line x1="544.70" y1="507.50" x2="546.90" y2="507.50" stroke="#000" stroke-width="1"/>
<text transform="translate(550.80,510.12) scale(0.82,1)" font-size="7.33" text-anchor="start" font-weight="700" stroke="#000" stroke-width="0.22">-20</text>
<line x1="366.30" y1="475.35" x2="544.70" y2="475.35" stroke="#000" stroke-width="1.1"/>
<path d="M344.6,437.8 L345.3,444.2 L345.7,450.3 L346.7,448.7 L347.3,446.9 L348.3,450.3 L349.2,453.8 L350.3,458.3 L351.2,461.8 L352.1,465.2 L353.1,463.4 L353.7,461.8 L354.7,464.1 L355.4,466.4 L356.3,464.8 L357.2,462.9 L358.1,462.5 L358.8,461.8 L359.7,466.4 L360.6,470.9 L361.5,474.4 L362.2,477.8 L363.1,478.5 L364.0,478.9 L365.0,479.4 L365.9,480.1 L366.8,481.7 L367.5,483.5 L368.4,484.7 L369.1,485.8 L369.8,484.7 L370.4,483.5 L371.4,484.4 L372.1,485.3 L373.0,483.3 L373.7,481.2 L374.8,477.1 L375.9,473.2 L377.1,472.1 L378.2,470.9 L379.4,469.8 L380.5,468.6 L381.7,470.2 L382.8,472.1 L384.2,474.8 L385.8,477.8 L386.9,474.4 L388.1,470.9 L389.2,469.3 L390.4,467.5 L391.5,469.8 L392.6,472.1 L393.8,476.2 L394.9,480.1 L396.1,480.1 L397.2,480.1 L398.4,475.5 L399.5,470.9 L400.6,467.5 L401.8,464.1 L402.7,461.5 L403.4,458.8 L404.3,462.0 L405.2,465.2 L406.1,467.5 L407.1,469.8 L408.2,473.2 L409.3,476.6 L410.7,477.8 L412.1,478.9 L413.5,477.8 L414.8,476.6 L416.2,477.1 L417.8,477.8 L419.0,478.0 L420.1,478.5 L421.2,474.1 L422.4,469.8 L423.5,465.7 L424.7,461.8 L425.8,465.7 L427.0,469.8 L428.1,473.9 L429.2,477.8 L430.4,480.8 L431.5,483.5 L432.7,481.2 L433.8,478.9 L435.0,474.4 L436.1,469.8 L437.3,466.4 L438.4,462.9 L439.8,459.7 L441.4,456.7 L442.3,461.1 L443.0,465.2 L444.1,468.0 L445.3,470.9 L446.4,474.4 L447.5,477.8 L448.7,478.9 L449.8,480.1 L451.0,481.7 L452.1,483.5 L453.3,481.7 L454.4,480.1 L456.0,477.8 L457.0,472.1 L458.0,469.3 L458.9,466.4 L459.8,465.7 L460.7,465.2 L461.9,468.0 L463.0,470.9 L464.1,472.5 L465.3,474.4 L466.4,472.1 L467.6,469.8 L468.7,471.6 L469.9,473.2 L470.8,475.5 L471.5,477.8 L473.1,477.6 L474.4,477.1 L475.6,473.9 L476.7,470.9 L477.9,469.8 L479.0,468.6 L480.2,469.8 L481.3,470.9 L482.4,468.6 L483.6,466.4 L484.7,462.9 L485.9,459.5 L487.0,461.1 L488.2,462.9 L489.3,467.5 L490.4,472.1 L491.6,475.5 L492.7,478.9 L493.9,479.4 L495.0,480.1 L496.2,477.8 L497.3,475.5 L498.5,472.1 L499.6,468.6 L500.7,465.7 L501.9,462.9 L503.0,461.1 L504.2,459.5 L505.3,461.1 L506.5,462.9 L507.6,464.8 L508.8,466.4 L509.9,465.2 L511.0,464.1 L512.4,467.5 L513.8,470.9 L514.9,472.1 L516.1,473.2 L517.2,474.8 L518.4,476.6 L519.5,473.9 L520.6,470.9 L521.8,469.8 L522.9,468.6 L524.1,469.8 L525.2,470.9 L526.4,472.5 L527.5,474.4 L528.7,476.2 L529.8,477.8 L530.9,477.1 L532.1,476.6 L533.2,478.9 L534.4,481.2 L535.5,480.8 L536.7,480.1 L537.8,482.4 L539.0,484.7 L539.9,485.3 L540.8,485.8 L541.9,484.0 L543.1,482.4 L544.2,481.2" fill="none" stroke="#1b407e" stroke-width="1.1" stroke-linejoin="round"/>
<path d="M344.6,437.8 L345.7,442.3 L346.2,449.2 L346.4,456.1 L348.5,457.2 L349.2,461.1 L349.9,465.2 L352.6,465.2 L353.3,461.8 L353.7,458.3 L355.4,458.3 L356.0,462.5 L356.7,466.4 L359.0,465.2 L359.9,469.3 L360.6,473.2 L361.3,476.2 L361.8,478.9 L365.2,480.1 L366.1,485.3 L366.8,490.4 L369.8,491.5 L370.9,493.8 L373.2,493.8 L373.9,486.3 L374.6,478.9 L376.6,477.8 L377.5,474.8 L378.2,472.1 L383.5,470.9 L385.8,473.2 L388.1,472.1 L388.8,468.6 L389.2,465.2 L391.5,465.2 L392.6,462.9 L394.2,464.1 L394.9,470.9 L395.6,477.8 L398.4,478.9 L399.0,474.8 L399.5,470.9 L401.8,469.8 L402.5,467.7 L402.9,465.7 L406.4,465.7 L407.1,470.7 L407.5,475.5 L410.9,477.8 L414.4,477.8 L416.7,475.5 L420.1,474.4 L421.0,472.1 L421.7,469.8 L423.1,467.5 L425.4,467.5 L426.0,470.9 L426.5,474.4 L429.2,474.8 L430.4,478.9 L433.8,478.5 L434.5,475.3 L435.0,472.1 L437.3,470.9 L437.9,467.0 L438.4,462.9 L441.8,463.4 L442.5,467.0 L443.0,470.9 L445.3,472.1 L445.9,475.3 L446.4,478.5 L449.8,478.9 L451.0,481.7 L453.3,480.8 L455.6,478.9 L457.7,476.6 L458.9,473.2 L463.0,473.9 L464.6,475.5 L465.5,470.9 L466.2,466.4 L469.2,465.2 L469.9,468.0 L470.3,470.9 L473.1,471.6 L474.4,473.2 L476.0,472.1 L476.7,464.8 L477.2,457.2 L480.6,456.7 L481.3,462.9 L481.8,468.6 L484.0,469.8 L484.7,465.2 L485.2,460.6 L489.1,460.2 L489.8,466.6 L490.4,473.2 L492.1,480.1 L495.0,480.8 L496.6,476.6 L498.2,469.8 L500.5,465.2 L501.9,460.6 L502.3,456.5 L502.8,452.6 L505.8,452.6 L506.5,456.5 L506.9,460.6 L509.2,459.5 L511.5,459.5 L513.3,467.5 L514.9,470.9 L517.2,473.2 L518.8,474.4 L519.5,467.5 L520.2,460.6 L522.9,461.8 L524.1,467.5 L526.4,468.6 L527.3,472.5 L528.0,476.6 L530.3,477.1 L530.9,480.8 L531.6,484.7 L533.2,485.8 L534.8,489.2 L537.8,489.2 L539.4,485.8 L541.7,485.8 L543.1,482.4" fill="none" stroke="#f68b33" stroke-width="1.15" stroke-linejoin="round"/>
<text transform="translate(384.00,435.82) scale(0.82,1)" font-size="7.33" text-anchor="start" font-weight="700" stroke="#000" stroke-width="0.22">Capital goods imports</text>
<line x1="416.00" y1="441.60" x2="387.90" y2="441.60" stroke="#1b407e" stroke-width="0.9"/>
<path d="M382.90,441.60 L391.50,439.70 L391.50,443.50 Z" fill="#1b407e"/>
<line x1="482.90" y1="492.70" x2="512.80" y2="492.70" stroke="#f68b33" stroke-width="0.9"/>
<path d="M517.80,492.70 L509.20,490.80 L509.20,494.60 Z" fill="#f68b33"/>
<text transform="translate(458.20,502.62) scale(0.82,1)" font-size="7.33" text-anchor="start" font-weight="700" stroke="#000" stroke-width="0.22">FAI ex construction</text>
<text transform="translate(325.20,525.80) scale(0.82,1)" font-size="6.4" text-anchor="start">Source: DGBAS</text>
<text x="325.00" y="605.80" font-size="8" text-anchor="start" textLength="114.00" lengthAdjust="spacingAndGlyphs" font-weight="700" stroke="#000" stroke-width="0.22">Figure 6: Semiconductor shipments</text>
<text transform="translate(325.00,617.30) scale(0.82,1)" font-size="7.33" text-anchor="start">%pt change in shipment share, 2023 less 2018</text>
<line x1="340.50" y1="628.60" x2="340.50" y2="714.10" stroke="#000" stroke-width="1"/>
<line x1="337.30" y1="629.10" x2="340.50" y2="629.10" stroke="#000" stroke-width="1"/>
<text transform="translate(334.20,631.72) scale(0.82,1)" font-size="7.33" text-anchor="end" font-weight="700" stroke="#000" stroke-width="0.22">4</text>
<line x1="337.30" y1="643.18" x2="340.50" y2="643.18" stroke="#000" stroke-width="1"/>
<text transform="translate(334.20,645.80) scale(0.82,1)" font-size="7.33" text-anchor="end" font-weight="700" stroke="#000" stroke-width="0.22">2</text>
<line x1="337.30" y1="657.26" x2="340.50" y2="657.26" stroke="#000" stroke-width="1"/>
<text transform="translate(334.20,659.88) scale(0.82,1)" font-size="7.33" text-anchor="end" font-weight="700" stroke="#000" stroke-width="0.22">0</text>
<line x1="337.30" y1="671.34" x2="340.50" y2="671.34" stroke="#000" stroke-width="1"/>
<text transform="translate(334.20,673.96) scale(0.82,1)" font-size="7.33" text-anchor="end" font-weight="700" stroke="#000" stroke-width="0.22">-2</text>
<line x1="337.30" y1="685.42" x2="340.50" y2="685.42" stroke="#000" stroke-width="1"/>
<text transform="translate(334.20,688.04) scale(0.82,1)" font-size="7.33" text-anchor="end" font-weight="700" stroke="#000" stroke-width="0.22">-4</text>
<line x1="337.30" y1="699.50" x2="340.50" y2="699.50" stroke="#000" stroke-width="1"/>
<text transform="translate(334.20,702.12) scale(0.82,1)" font-size="7.33" text-anchor="end" font-weight="700" stroke="#000" stroke-width="0.22">-6</text>
<line x1="337.30" y1="713.58" x2="340.50" y2="713.58" stroke="#000" stroke-width="1"/>
<text transform="translate(334.20,716.20) scale(0.82,1)" font-size="7.33" text-anchor="end" font-weight="700" stroke="#000" stroke-width="0.22">-8</text>
<rect x="357.20" y="629.80" width="21.30" height="27.50" fill="#1f497d"/>
<rect x="411.10" y="641.80" width="20.80" height="15.50" fill="#1f497d"/>
<rect x="464.50" y="651.40" width="21.60" height="5.90" fill="#1f497d"/>
<rect x="518.40" y="657.30" width="21.60" height="48.30" fill="#1f497d"/>
<line x1="337.30" y1="657.30" x2="556.90" y2="657.30" stroke="#000" stroke-width="1.25"/>
<line x1="394.47" y1="657.30" x2="394.47" y2="660.10" stroke="#000" stroke-width="1"/>
<line x1="448.44" y1="657.30" x2="448.44" y2="660.10" stroke="#000" stroke-width="1"/>
<line x1="502.41" y1="657.30" x2="502.41" y2="660.10" stroke="#000" stroke-width="1"/>
<line x1="556.38" y1="657.30" x2="556.38" y2="660.10" stroke="#000" stroke-width="1"/>
<text transform="translate(367.80,725.32) scale(0.82,1)" font-size="7.33" text-anchor="middle" font-weight="700" stroke="#000" stroke-width="0.22">Americas</text>
<text transform="translate(421.60,725.32) scale(0.82,1)" font-size="7.33" text-anchor="middle" font-weight="700" stroke="#000" stroke-width="0.22">Europe</text>
<text transform="translate(475.50,725.32) scale(0.82,1)" font-size="7.33" text-anchor="middle" font-weight="700" stroke="#000" stroke-width="0.22">Japan</text>
<text transform="translate(529.30,725.32) scale(0.82,1)" font-size="7.33" text-anchor="middle" font-weight="700" stroke="#000" stroke-width="0.22">Asia ex JP</text>
<text transform="translate(325.00,732.30) scale(0.82,1)" font-size="6.4" text-anchor="start">Source: WSTS</text>
</svg>
<p>
<span class="t p" style="top:538.82px;font-size:9.95px;left:318.10px;color:#111;">Whether this speaks to the impact of industrial policy is</span>
<span class="t p" style="top:550.82px;font-size:9.95px;left:318.10px;color:#111;">unclear but the shift in shipment share of semiconductors</span>
<span class="t p" style="top:562.82px;font-size:9.95px;left:318.10px;color:#111;">beyond Asia suggests that a rise in non-Asia tech capex could</span>
<span class="t p" style="top:573.82px;font-size:9.95px;left:318.10px;color:#111;">be in train (Figure 6).</span>
</p>
<footer>
<span class="t" style="top:756.30px;font-size:7px;left:563.20px;color:#444;">1</span>
</footer>
</div></body></html>
